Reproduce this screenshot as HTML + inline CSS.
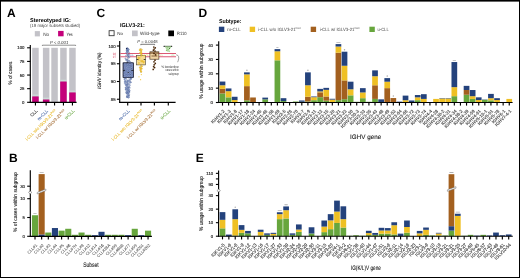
<!DOCTYPE html>
<html><head><meta charset="utf-8"><style>html,body{margin:0;padding:0;background:#fff}svg{display:block} #w{position:absolute;left:0;top:0;will-change:transform}</style></head>
<body><div id="w"><svg width="520" height="278" viewBox="0 0 520 278" font-family="'Liberation Sans', sans-serif" text-rendering="geometricPrecision">
<rect width="520" height="278" fill="#fff"/>
<text x="6.90" y="16.60" font-size="12" fill="#000" text-anchor="start" font-weight="bold" font-style="normal" >A</text>
<text x="30.10" y="21.60" font-size="5.6" fill="#000" text-anchor="start" font-weight="bold" font-style="normal" textLength="40.7" lengthAdjust="spacingAndGlyphs" >Stereotyped IG:</text>
<text x="30.10" y="26.90" font-size="4.5" fill="#444" text-anchor="start" font-weight="normal" font-style="normal" textLength="50" lengthAdjust="spacingAndGlyphs" >(19 major subsets studied)</text>
<rect x="34.80" y="31.10" width="5.10" height="5.30" fill="#c3c2c8" />
<text x="43.20" y="35.90" font-size="4.6" fill="#333" text-anchor="start" font-weight="normal" font-style="normal" textLength="6" lengthAdjust="spacingAndGlyphs" >No</text>
<rect x="58.10" y="30.90" width="5.50" height="5.40" fill="#c4007a" />
<text x="66.50" y="35.90" font-size="4.6" fill="#333" text-anchor="start" font-weight="normal" font-style="normal" textLength="6.2" lengthAdjust="spacingAndGlyphs" >Yes</text>
<line x1="30.30" y1="45.00" x2="30.30" y2="102.90" stroke="#000" stroke-width="1.15" />
<line x1="27.10" y1="102.30" x2="30.30" y2="102.30" stroke="#000" stroke-width="1.1" />
<text x="24.50" y="103.85" font-size="4.3" fill="#1a1a1a" text-anchor="end" font-weight="normal" font-style="normal" stroke="#1a1a1a" stroke-width="0.14">0</text>
<line x1="27.10" y1="88.67" x2="30.30" y2="88.67" stroke="#000" stroke-width="1.1" />
<text x="24.50" y="90.22" font-size="4.3" fill="#1a1a1a" text-anchor="end" font-weight="normal" font-style="normal" stroke="#1a1a1a" stroke-width="0.14">25</text>
<line x1="27.10" y1="75.05" x2="30.30" y2="75.05" stroke="#000" stroke-width="1.1" />
<text x="24.50" y="76.60" font-size="4.3" fill="#1a1a1a" text-anchor="end" font-weight="normal" font-style="normal" stroke="#1a1a1a" stroke-width="0.14">50</text>
<line x1="27.10" y1="61.42" x2="30.30" y2="61.42" stroke="#000" stroke-width="1.1" />
<text x="24.50" y="62.97" font-size="4.3" fill="#1a1a1a" text-anchor="end" font-weight="normal" font-style="normal" stroke="#1a1a1a" stroke-width="0.14">75</text>
<line x1="27.10" y1="47.80" x2="30.30" y2="47.80" stroke="#000" stroke-width="1.1" />
<text x="24.50" y="49.35" font-size="4.3" fill="#1a1a1a" text-anchor="end" font-weight="normal" font-style="normal" stroke="#1a1a1a" stroke-width="0.14">100</text>
<text x="12.30" y="73.10" font-size="5.3" fill="#1a1a1a" text-anchor="middle" font-weight="normal" font-style="normal" textLength="22.7" lengthAdjust="spacingAndGlyphs" transform="rotate(-90 12.30 73.10)" stroke="#1a1a1a" stroke-width="0.1">% of cases</text>
<rect x="32.20" y="47.80" width="6.50" height="54.50" fill="#c3c2c8" />
<rect x="32.20" y="96.47" width="6.50" height="5.83" fill="#c4007a" />
<line x1="32.50" y1="95.17" x2="38.40" y2="95.17" stroke="#d2ece2" stroke-width="0.8" />
<rect x="42.90" y="47.80" width="6.50" height="54.50" fill="#c3c2c8" />
<rect x="42.90" y="99.58" width="6.50" height="2.72" fill="#c4007a" />
<line x1="43.20" y1="98.28" x2="49.10" y2="98.28" stroke="#d2ece2" stroke-width="0.8" />
<rect x="51.30" y="47.80" width="6.50" height="54.50" fill="#c3c2c8" />
<rect x="60.20" y="47.80" width="6.50" height="54.50" fill="#c3c2c8" />
<rect x="60.20" y="81.59" width="6.50" height="20.71" fill="#c4007a" />
<line x1="60.50" y1="80.29" x2="66.40" y2="80.29" stroke="#d2ece2" stroke-width="0.8" />
<rect x="69.20" y="47.80" width="6.50" height="54.50" fill="#c3c2c8" />
<rect x="69.20" y="92.49" width="6.50" height="9.81" fill="#c4007a" />
<line x1="69.50" y1="91.19" x2="75.40" y2="91.19" stroke="#d2ece2" stroke-width="0.8" />
<line x1="29.80" y1="102.30" x2="76.60" y2="102.30" stroke="#000" stroke-width="1.15" />
<line x1="35.45" y1="102.30" x2="35.45" y2="105.50" stroke="#000" stroke-width="1.15" />
<line x1="46.15" y1="102.30" x2="46.15" y2="105.50" stroke="#000" stroke-width="1.15" />
<line x1="54.55" y1="102.30" x2="54.55" y2="105.50" stroke="#000" stroke-width="1.15" />
<line x1="63.45" y1="102.30" x2="63.45" y2="105.50" stroke="#000" stroke-width="1.15" />
<line x1="72.45" y1="102.30" x2="72.45" y2="105.50" stroke="#000" stroke-width="1.15" />
<path d="M42.4,46.0 V45.2 H75.6 V46.0" fill="none" stroke="#555" stroke-width="0.65"/>
<text x="59.10" y="43.90" font-size="4.3" fill="#333" text-anchor="middle" font-weight="normal" font-style="italic" textLength="18.4" lengthAdjust="spacingAndGlyphs" ><tspan font-style='italic'>P</tspan> &lt; 0.001</text>
<text x="37.65" y="111.30" font-size="4.4" fill="#222" text-anchor="end" font-weight="normal" font-style="normal" transform="rotate(-45 37.65 111.30)" stroke="#222" stroke-width="0.1">CLL</text>
<text x="48.35" y="111.30" font-size="4.4" fill="#4a6aa8" text-anchor="end" font-weight="normal" font-style="normal" transform="rotate(-45 48.35 111.30)" stroke="#4a6aa8" stroke-width="0.1">m-CLL</text>
<text x="56.75" y="111.30" font-size="4.2" fill="#e9b92a" text-anchor="end" font-weight="normal" font-style="normal" transform="rotate(-45 56.75 111.30)" stroke="#e9b92a" stroke-width="0.1">i-CLL w/o IGLV3-21<tspan font-size='2.4' dy='-1.8'>R110</tspan></text>
<text x="65.65" y="111.30" font-size="4.2" fill="#a8733c" text-anchor="end" font-weight="normal" font-style="normal" transform="rotate(-45 65.65 111.30)" stroke="#a8733c" stroke-width="0.1">i-CLL w/ IGLV3-21<tspan font-size='2.4' dy='-1.8'>R110</tspan></text>
<text x="74.65" y="111.30" font-size="4.4" fill="#6aa843" text-anchor="end" font-weight="normal" font-style="normal" transform="rotate(-45 74.65 111.30)" stroke="#6aa843" stroke-width="0.1">u-CLL</text>
<text x="96.50" y="16.50" font-size="12" fill="#000" text-anchor="start" font-weight="bold" font-style="normal" >C</text>
<text x="119.90" y="26.60" font-size="5.6" fill="#000" text-anchor="start" font-weight="bold" font-style="normal" textLength="25" lengthAdjust="spacingAndGlyphs" >IGLV3-21:</text>
<rect x="109.10" y="30.70" width="5.00" height="5.00" fill="#fff" stroke="#333" stroke-width="0.85"/>
<text x="117.30" y="35.00" font-size="4.4" fill="#333" text-anchor="start" font-weight="normal" font-style="normal" textLength="5.8" lengthAdjust="spacingAndGlyphs" >No</text>
<rect x="132.00" y="30.50" width="5.70" height="5.70" fill="#c3c2c8" />
<text x="140.10" y="35.00" font-size="4.6" fill="#333" text-anchor="start" font-weight="normal" font-style="normal" textLength="19.6" lengthAdjust="spacingAndGlyphs" >Wild-type</text>
<rect x="168.30" y="30.50" width="5.70" height="5.70" fill="#000" />
<text x="177.00" y="35.00" font-size="4.6" fill="#333" text-anchor="start" font-weight="normal" font-style="normal" textLength="9.5" lengthAdjust="spacingAndGlyphs" >R110</text>
<line x1="119.70" y1="41.00" x2="119.70" y2="102.90" stroke="#000" stroke-width="1.15" />
<line x1="116.90" y1="46.00" x2="119.70" y2="46.00" stroke="#000" stroke-width="1.1" />
<text x="115.60" y="47.55" font-size="4.3" fill="#1a1a1a" text-anchor="end" font-weight="normal" font-style="normal" stroke="#1a1a1a" stroke-width="0.14">100</text>
<line x1="116.90" y1="63.75" x2="119.70" y2="63.75" stroke="#000" stroke-width="1.1" />
<text x="115.60" y="65.30" font-size="4.3" fill="#1a1a1a" text-anchor="end" font-weight="normal" font-style="normal" stroke="#1a1a1a" stroke-width="0.14">95</text>
<line x1="116.90" y1="81.50" x2="119.70" y2="81.50" stroke="#000" stroke-width="1.1" />
<text x="115.60" y="83.05" font-size="4.3" fill="#1a1a1a" text-anchor="end" font-weight="normal" font-style="normal" stroke="#1a1a1a" stroke-width="0.14">90</text>
<line x1="116.90" y1="99.25" x2="119.70" y2="99.25" stroke="#000" stroke-width="1.1" />
<text x="115.60" y="100.80" font-size="4.3" fill="#1a1a1a" text-anchor="end" font-weight="normal" font-style="normal" stroke="#1a1a1a" stroke-width="0.14">85</text>
<text x="101.20" y="70.60" font-size="5.0" fill="#1a1a1a" text-anchor="middle" font-weight="normal" font-style="normal" textLength="36.6" lengthAdjust="spacingAndGlyphs" transform="rotate(-90 101.20 70.60)" stroke="#1a1a1a" stroke-width="0.1"><tspan font-style='italic'>IGHV</tspan> identity (%)</text>
<line x1="120.30" y1="53.45" x2="176.00" y2="53.45" stroke="#dc5a74" stroke-width="1.1" />
<text x="116.10" y="54.55" font-size="3.2" fill="#dc5a74" text-anchor="end" font-weight="normal" font-style="normal" textLength="3.3" lengthAdjust="spacingAndGlyphs" >98</text>
<line x1="120.30" y1="56.75" x2="176.00" y2="56.75" stroke="#dc5a74" stroke-width="1.1" />
<text x="116.10" y="57.85" font-size="3.2" fill="#dc5a74" text-anchor="end" font-weight="normal" font-style="normal" textLength="3.3" lengthAdjust="spacingAndGlyphs" >97</text>
<line x1="119.20" y1="102.30" x2="175.60" y2="102.30" stroke="#000" stroke-width="1.15" />
<line x1="127.70" y1="102.30" x2="127.70" y2="105.60" stroke="#000" stroke-width="1.15" />
<line x1="141.00" y1="102.30" x2="141.00" y2="105.60" stroke="#000" stroke-width="1.15" />
<line x1="154.40" y1="102.30" x2="154.40" y2="105.60" stroke="#000" stroke-width="1.15" />
<line x1="168.30" y1="102.30" x2="168.30" y2="105.60" stroke="#000" stroke-width="1.15" />
<path d="M140.8,45.2 V44.3 H154.6 V45.2" fill="none" stroke="#333" stroke-width="0.65"/>
<text x="147.50" y="42.90" font-size="4.3" fill="#333" text-anchor="middle" font-weight="normal" font-style="normal" textLength="20.4" lengthAdjust="spacingAndGlyphs" ><tspan font-style='italic'>P</tspan> = 0.0048</text>
<rect x="123.10" y="62.90" width="10.20" height="14.40" fill="#8090c2" stroke="#1e2236" stroke-width="0.6"/>
<line x1="127.80" y1="48.20" x2="127.80" y2="62.90" stroke="#555" stroke-width="0.4" />
<circle cx="128.04" cy="54.79" r="0.52" fill="#d3dbef" fill-opacity="1" stroke="#37518f" stroke-width="0.32"/>
<circle cx="127.57" cy="61.86" r="0.52" fill="#d3dbef" fill-opacity="1" stroke="#37518f" stroke-width="0.32"/>
<circle cx="128.18" cy="55.62" r="0.52" fill="#d3dbef" fill-opacity="1" stroke="#37518f" stroke-width="0.32"/>
<circle cx="127.83" cy="50.77" r="0.52" fill="#d3dbef" fill-opacity="1" stroke="#37518f" stroke-width="0.32"/>
<circle cx="129.25" cy="57.45" r="0.52" fill="#d3dbef" fill-opacity="1" stroke="#37518f" stroke-width="0.32"/>
<circle cx="127.39" cy="49.41" r="0.52" fill="#d3dbef" fill-opacity="1" stroke="#37518f" stroke-width="0.32"/>
<circle cx="128.45" cy="49.36" r="0.52" fill="#d3dbef" fill-opacity="1" stroke="#37518f" stroke-width="0.32"/>
<circle cx="125.37" cy="58.40" r="0.52" fill="#d3dbef" fill-opacity="1" stroke="#37518f" stroke-width="0.32"/>
<circle cx="130.99" cy="62.73" r="0.52" fill="#d3dbef" fill-opacity="1" stroke="#37518f" stroke-width="0.32"/>
<circle cx="128.39" cy="57.81" r="0.52" fill="#d3dbef" fill-opacity="1" stroke="#37518f" stroke-width="0.32"/>
<circle cx="126.61" cy="50.36" r="0.52" fill="#d3dbef" fill-opacity="1" stroke="#37518f" stroke-width="0.32"/>
<circle cx="125.86" cy="55.93" r="0.52" fill="#d3dbef" fill-opacity="1" stroke="#37518f" stroke-width="0.32"/>
<circle cx="127.12" cy="50.85" r="0.52" fill="#d3dbef" fill-opacity="1" stroke="#37518f" stroke-width="0.32"/>
<circle cx="127.74" cy="48.45" r="0.52" fill="#d3dbef" fill-opacity="1" stroke="#37518f" stroke-width="0.32"/>
<circle cx="129.15" cy="54.61" r="0.52" fill="#d3dbef" fill-opacity="1" stroke="#37518f" stroke-width="0.32"/>
<circle cx="128.41" cy="55.79" r="0.52" fill="#d3dbef" fill-opacity="1" stroke="#37518f" stroke-width="0.32"/>
<circle cx="128.49" cy="55.50" r="0.52" fill="#d3dbef" fill-opacity="1" stroke="#37518f" stroke-width="0.32"/>
<circle cx="126.91" cy="54.86" r="0.52" fill="#d3dbef" fill-opacity="1" stroke="#37518f" stroke-width="0.32"/>
<circle cx="131.24" cy="62.96" r="0.52" fill="#d3dbef" fill-opacity="1" stroke="#37518f" stroke-width="0.32"/>
<circle cx="129.07" cy="60.60" r="0.52" fill="#d3dbef" fill-opacity="1" stroke="#37518f" stroke-width="0.32"/>
<circle cx="126.92" cy="52.73" r="0.52" fill="#d3dbef" fill-opacity="1" stroke="#37518f" stroke-width="0.32"/>
<circle cx="126.46" cy="52.34" r="0.52" fill="#d3dbef" fill-opacity="1" stroke="#37518f" stroke-width="0.32"/>
<circle cx="127.23" cy="59.49" r="0.52" fill="#d3dbef" fill-opacity="1" stroke="#37518f" stroke-width="0.32"/>
<circle cx="127.10" cy="60.70" r="0.52" fill="#d3dbef" fill-opacity="1" stroke="#37518f" stroke-width="0.32"/>
<circle cx="130.14" cy="62.37" r="0.52" fill="#d3dbef" fill-opacity="1" stroke="#37518f" stroke-width="0.32"/>
<circle cx="127.33" cy="48.01" r="0.52" fill="#d3dbef" fill-opacity="1" stroke="#37518f" stroke-width="0.32"/>
<circle cx="127.61" cy="61.65" r="0.52" fill="#d3dbef" fill-opacity="1" stroke="#37518f" stroke-width="0.32"/>
<circle cx="127.10" cy="62.71" r="0.52" fill="#d3dbef" fill-opacity="1" stroke="#37518f" stroke-width="0.32"/>
<circle cx="128.06" cy="49.10" r="0.52" fill="#d3dbef" fill-opacity="1" stroke="#37518f" stroke-width="0.32"/>
<circle cx="126.47" cy="59.68" r="0.52" fill="#d3dbef" fill-opacity="1" stroke="#37518f" stroke-width="0.32"/>
<circle cx="127.45" cy="49.31" r="0.52" fill="#d3dbef" fill-opacity="1" stroke="#37518f" stroke-width="0.32"/>
<circle cx="129.55" cy="62.46" r="0.52" fill="#d3dbef" fill-opacity="1" stroke="#37518f" stroke-width="0.32"/>
<circle cx="127.23" cy="49.77" r="0.52" fill="#d3dbef" fill-opacity="1" stroke="#37518f" stroke-width="0.32"/>
<circle cx="126.86" cy="49.52" r="0.52" fill="#d3dbef" fill-opacity="1" stroke="#37518f" stroke-width="0.32"/>
<circle cx="125.91" cy="59.96" r="0.52" fill="#d3dbef" fill-opacity="1" stroke="#37518f" stroke-width="0.32"/>
<circle cx="127.56" cy="56.39" r="0.52" fill="#d3dbef" fill-opacity="1" stroke="#37518f" stroke-width="0.32"/>
<circle cx="128.41" cy="50.86" r="0.52" fill="#d3dbef" fill-opacity="1" stroke="#37518f" stroke-width="0.32"/>
<circle cx="128.13" cy="49.96" r="0.52" fill="#d3dbef" fill-opacity="1" stroke="#37518f" stroke-width="0.32"/>
<circle cx="127.62" cy="49.75" r="0.52" fill="#d3dbef" fill-opacity="1" stroke="#37518f" stroke-width="0.32"/>
<circle cx="127.17" cy="51.19" r="0.52" fill="#d3dbef" fill-opacity="1" stroke="#37518f" stroke-width="0.32"/>
<circle cx="129.86" cy="62.56" r="0.52" fill="#d3dbef" fill-opacity="1" stroke="#37518f" stroke-width="0.32"/>
<circle cx="129.03" cy="52.56" r="0.52" fill="#d3dbef" fill-opacity="1" stroke="#37518f" stroke-width="0.32"/>
<circle cx="127.51" cy="51.16" r="0.52" fill="#d3dbef" fill-opacity="1" stroke="#37518f" stroke-width="0.32"/>
<circle cx="128.68" cy="60.82" r="0.52" fill="#d3dbef" fill-opacity="1" stroke="#37518f" stroke-width="0.32"/>
<circle cx="128.85" cy="49.50" r="0.52" fill="#d3dbef" fill-opacity="1" stroke="#37518f" stroke-width="0.32"/>
<circle cx="127.13" cy="51.20" r="0.52" fill="#d3dbef" fill-opacity="1" stroke="#37518f" stroke-width="0.32"/>
<circle cx="126.82" cy="59.59" r="0.52" fill="#d3dbef" fill-opacity="1" stroke="#37518f" stroke-width="0.32"/>
<circle cx="126.45" cy="52.44" r="0.52" fill="#d3dbef" fill-opacity="1" stroke="#37518f" stroke-width="0.32"/>
<circle cx="127.97" cy="49.35" r="0.52" fill="#d3dbef" fill-opacity="1" stroke="#37518f" stroke-width="0.32"/>
<circle cx="128.09" cy="51.65" r="0.52" fill="#d3dbef" fill-opacity="1" stroke="#37518f" stroke-width="0.32"/>
<circle cx="127.63" cy="53.58" r="0.52" fill="#d3dbef" fill-opacity="1" stroke="#37518f" stroke-width="0.32"/>
<circle cx="127.69" cy="62.39" r="0.52" fill="#d3dbef" fill-opacity="1" stroke="#37518f" stroke-width="0.32"/>
<circle cx="129.51" cy="56.62" r="0.52" fill="#d3dbef" fill-opacity="1" stroke="#37518f" stroke-width="0.32"/>
<circle cx="126.91" cy="50.74" r="0.52" fill="#d3dbef" fill-opacity="1" stroke="#37518f" stroke-width="0.32"/>
<circle cx="129.85" cy="61.63" r="0.52" fill="#d3dbef" fill-opacity="1" stroke="#37518f" stroke-width="0.32"/>
<circle cx="124.95" cy="66.57" r="0.52" fill="#d3dbef" fill-opacity="1" stroke="#37518f" stroke-width="0.32"/>
<circle cx="131.85" cy="73.57" r="0.52" fill="#d3dbef" fill-opacity="1" stroke="#37518f" stroke-width="0.32"/>
<circle cx="131.94" cy="65.81" r="0.52" fill="#d3dbef" fill-opacity="1" stroke="#37518f" stroke-width="0.32"/>
<circle cx="128.75" cy="75.62" r="0.52" fill="#d3dbef" fill-opacity="1" stroke="#37518f" stroke-width="0.32"/>
<circle cx="124.16" cy="69.03" r="0.52" fill="#d3dbef" fill-opacity="1" stroke="#37518f" stroke-width="0.32"/>
<circle cx="132.06" cy="63.55" r="0.52" fill="#d3dbef" fill-opacity="1" stroke="#37518f" stroke-width="0.32"/>
<circle cx="129.68" cy="66.41" r="0.52" fill="#d3dbef" fill-opacity="1" stroke="#37518f" stroke-width="0.32"/>
<circle cx="130.78" cy="66.67" r="0.52" fill="#d3dbef" fill-opacity="1" stroke="#37518f" stroke-width="0.32"/>
<circle cx="125.90" cy="71.53" r="0.52" fill="#d3dbef" fill-opacity="1" stroke="#37518f" stroke-width="0.32"/>
<circle cx="129.83" cy="65.51" r="0.52" fill="#d3dbef" fill-opacity="1" stroke="#37518f" stroke-width="0.32"/>
<circle cx="125.30" cy="63.98" r="0.52" fill="#d3dbef" fill-opacity="1" stroke="#37518f" stroke-width="0.32"/>
<circle cx="131.04" cy="71.00" r="0.52" fill="#d3dbef" fill-opacity="1" stroke="#37518f" stroke-width="0.32"/>
<circle cx="125.78" cy="71.78" r="0.52" fill="#d3dbef" fill-opacity="1" stroke="#37518f" stroke-width="0.32"/>
<circle cx="125.08" cy="76.12" r="0.52" fill="#d3dbef" fill-opacity="1" stroke="#37518f" stroke-width="0.32"/>
<circle cx="125.68" cy="63.24" r="0.52" fill="#d3dbef" fill-opacity="1" stroke="#37518f" stroke-width="0.32"/>
<circle cx="123.76" cy="69.37" r="0.52" fill="#d3dbef" fill-opacity="1" stroke="#37518f" stroke-width="0.32"/>
<circle cx="126.59" cy="65.52" r="0.52" fill="#d3dbef" fill-opacity="1" stroke="#37518f" stroke-width="0.32"/>
<circle cx="124.41" cy="71.18" r="0.52" fill="#d3dbef" fill-opacity="1" stroke="#37518f" stroke-width="0.32"/>
<circle cx="131.40" cy="68.18" r="0.52" fill="#d3dbef" fill-opacity="1" stroke="#37518f" stroke-width="0.32"/>
<circle cx="129.24" cy="77.02" r="0.52" fill="#d3dbef" fill-opacity="1" stroke="#37518f" stroke-width="0.32"/>
<circle cx="128.58" cy="72.88" r="0.52" fill="#d3dbef" fill-opacity="1" stroke="#37518f" stroke-width="0.32"/>
<circle cx="131.57" cy="63.26" r="0.52" fill="#d3dbef" fill-opacity="1" stroke="#37518f" stroke-width="0.32"/>
<circle cx="132.06" cy="73.02" r="0.52" fill="#d3dbef" fill-opacity="1" stroke="#37518f" stroke-width="0.32"/>
<circle cx="129.05" cy="63.30" r="0.52" fill="#d3dbef" fill-opacity="1" stroke="#37518f" stroke-width="0.32"/>
<circle cx="129.92" cy="69.90" r="0.52" fill="#d3dbef" fill-opacity="1" stroke="#37518f" stroke-width="0.32"/>
<circle cx="132.39" cy="67.56" r="0.52" fill="#d3dbef" fill-opacity="1" stroke="#37518f" stroke-width="0.32"/>
<circle cx="128.22" cy="64.08" r="0.52" fill="#d3dbef" fill-opacity="1" stroke="#37518f" stroke-width="0.32"/>
<circle cx="131.48" cy="73.54" r="0.52" fill="#d3dbef" fill-opacity="1" stroke="#37518f" stroke-width="0.32"/>
<circle cx="129.67" cy="73.54" r="0.52" fill="#d3dbef" fill-opacity="1" stroke="#37518f" stroke-width="0.32"/>
<circle cx="131.62" cy="74.34" r="0.52" fill="#d3dbef" fill-opacity="1" stroke="#37518f" stroke-width="0.32"/>
<circle cx="129.50" cy="68.03" r="0.52" fill="#d3dbef" fill-opacity="1" stroke="#37518f" stroke-width="0.32"/>
<circle cx="131.21" cy="75.88" r="0.52" fill="#d3dbef" fill-opacity="1" stroke="#37518f" stroke-width="0.32"/>
<circle cx="130.47" cy="68.97" r="0.52" fill="#d3dbef" fill-opacity="1" stroke="#37518f" stroke-width="0.32"/>
<circle cx="128.47" cy="75.35" r="0.52" fill="#d3dbef" fill-opacity="1" stroke="#37518f" stroke-width="0.32"/>
<circle cx="126.72" cy="71.94" r="0.52" fill="#d3dbef" fill-opacity="1" stroke="#37518f" stroke-width="0.32"/>
<circle cx="128.80" cy="71.33" r="0.52" fill="#d3dbef" fill-opacity="1" stroke="#37518f" stroke-width="0.32"/>
<circle cx="129.08" cy="64.15" r="0.52" fill="#d3dbef" fill-opacity="1" stroke="#37518f" stroke-width="0.32"/>
<circle cx="131.29" cy="77.20" r="0.52" fill="#d3dbef" fill-opacity="1" stroke="#37518f" stroke-width="0.32"/>
<circle cx="126.77" cy="73.41" r="0.52" fill="#d3dbef" fill-opacity="1" stroke="#37518f" stroke-width="0.32"/>
<circle cx="128.54" cy="73.51" r="0.52" fill="#d3dbef" fill-opacity="1" stroke="#37518f" stroke-width="0.32"/>
<circle cx="130.91" cy="69.30" r="0.52" fill="#d3dbef" fill-opacity="1" stroke="#37518f" stroke-width="0.32"/>
<circle cx="130.10" cy="64.20" r="0.52" fill="#d3dbef" fill-opacity="1" stroke="#37518f" stroke-width="0.32"/>
<circle cx="128.73" cy="63.43" r="0.52" fill="#d3dbef" fill-opacity="1" stroke="#37518f" stroke-width="0.32"/>
<circle cx="125.32" cy="69.88" r="0.52" fill="#d3dbef" fill-opacity="1" stroke="#37518f" stroke-width="0.32"/>
<circle cx="127.77" cy="72.99" r="0.52" fill="#d3dbef" fill-opacity="1" stroke="#37518f" stroke-width="0.32"/>
<circle cx="131.67" cy="71.79" r="0.52" fill="#d3dbef" fill-opacity="1" stroke="#37518f" stroke-width="0.32"/>
<circle cx="129.44" cy="67.30" r="0.52" fill="#d3dbef" fill-opacity="1" stroke="#37518f" stroke-width="0.32"/>
<circle cx="124.76" cy="65.90" r="0.52" fill="#d3dbef" fill-opacity="1" stroke="#37518f" stroke-width="0.32"/>
<circle cx="129.27" cy="75.95" r="0.52" fill="#d3dbef" fill-opacity="1" stroke="#37518f" stroke-width="0.32"/>
<circle cx="131.40" cy="69.32" r="0.52" fill="#d3dbef" fill-opacity="1" stroke="#37518f" stroke-width="0.32"/>
<circle cx="129.33" cy="67.68" r="0.52" fill="#d3dbef" fill-opacity="1" stroke="#37518f" stroke-width="0.32"/>
<circle cx="127.16" cy="65.84" r="0.52" fill="#d3dbef" fill-opacity="1" stroke="#37518f" stroke-width="0.32"/>
<circle cx="131.61" cy="74.53" r="0.52" fill="#d3dbef" fill-opacity="1" stroke="#37518f" stroke-width="0.32"/>
<circle cx="126.74" cy="75.59" r="0.52" fill="#d3dbef" fill-opacity="1" stroke="#37518f" stroke-width="0.32"/>
<circle cx="126.11" cy="71.34" r="0.52" fill="#d3dbef" fill-opacity="1" stroke="#37518f" stroke-width="0.32"/>
<circle cx="127.77" cy="64.95" r="0.52" fill="#d3dbef" fill-opacity="1" stroke="#37518f" stroke-width="0.32"/>
<circle cx="131.01" cy="74.97" r="0.52" fill="#d3dbef" fill-opacity="1" stroke="#37518f" stroke-width="0.32"/>
<circle cx="131.94" cy="73.17" r="0.52" fill="#d3dbef" fill-opacity="1" stroke="#37518f" stroke-width="0.32"/>
<circle cx="124.76" cy="66.96" r="0.52" fill="#d3dbef" fill-opacity="1" stroke="#37518f" stroke-width="0.32"/>
<circle cx="125.73" cy="69.44" r="0.52" fill="#d3dbef" fill-opacity="1" stroke="#37518f" stroke-width="0.32"/>
<circle cx="127.01" cy="66.06" r="0.52" fill="#d3dbef" fill-opacity="1" stroke="#37518f" stroke-width="0.32"/>
<circle cx="127.74" cy="71.95" r="0.52" fill="#d3dbef" fill-opacity="1" stroke="#37518f" stroke-width="0.32"/>
<circle cx="130.92" cy="67.51" r="0.52" fill="#d3dbef" fill-opacity="1" stroke="#37518f" stroke-width="0.32"/>
<circle cx="127.36" cy="77.04" r="0.52" fill="#d3dbef" fill-opacity="1" stroke="#37518f" stroke-width="0.32"/>
<circle cx="128.45" cy="73.13" r="0.52" fill="#d3dbef" fill-opacity="1" stroke="#37518f" stroke-width="0.32"/>
<circle cx="130.48" cy="67.42" r="0.52" fill="#d3dbef" fill-opacity="1" stroke="#37518f" stroke-width="0.32"/>
<circle cx="124.45" cy="63.27" r="0.52" fill="#d3dbef" fill-opacity="1" stroke="#37518f" stroke-width="0.32"/>
<circle cx="125.38" cy="74.86" r="0.52" fill="#d3dbef" fill-opacity="1" stroke="#37518f" stroke-width="0.32"/>
<circle cx="123.63" cy="65.01" r="0.52" fill="#d3dbef" fill-opacity="1" stroke="#37518f" stroke-width="0.32"/>
<circle cx="127.31" cy="72.00" r="0.52" fill="#d3dbef" fill-opacity="1" stroke="#37518f" stroke-width="0.32"/>
<circle cx="129.23" cy="72.01" r="0.52" fill="#d3dbef" fill-opacity="1" stroke="#37518f" stroke-width="0.32"/>
<circle cx="132.02" cy="74.55" r="0.52" fill="#d3dbef" fill-opacity="1" stroke="#37518f" stroke-width="0.32"/>
<circle cx="125.03" cy="72.79" r="0.52" fill="#d3dbef" fill-opacity="1" stroke="#37518f" stroke-width="0.32"/>
<circle cx="124.84" cy="69.79" r="0.52" fill="#d3dbef" fill-opacity="1" stroke="#37518f" stroke-width="0.32"/>
<circle cx="127.54" cy="63.15" r="0.52" fill="#d3dbef" fill-opacity="1" stroke="#37518f" stroke-width="0.32"/>
<circle cx="124.85" cy="73.21" r="0.52" fill="#d3dbef" fill-opacity="1" stroke="#37518f" stroke-width="0.32"/>
<circle cx="126.38" cy="66.89" r="0.52" fill="#d3dbef" fill-opacity="1" stroke="#37518f" stroke-width="0.32"/>
<circle cx="127.99" cy="72.97" r="0.52" fill="#d3dbef" fill-opacity="1" stroke="#37518f" stroke-width="0.32"/>
<circle cx="130.16" cy="71.79" r="0.52" fill="#d3dbef" fill-opacity="1" stroke="#37518f" stroke-width="0.32"/>
<circle cx="130.49" cy="68.63" r="0.52" fill="#d3dbef" fill-opacity="1" stroke="#37518f" stroke-width="0.32"/>
<circle cx="124.00" cy="75.96" r="0.52" fill="#d3dbef" fill-opacity="1" stroke="#37518f" stroke-width="0.32"/>
<circle cx="129.85" cy="76.34" r="0.52" fill="#d3dbef" fill-opacity="1" stroke="#37518f" stroke-width="0.32"/>
<circle cx="127.37" cy="64.86" r="0.52" fill="#d3dbef" fill-opacity="1" stroke="#37518f" stroke-width="0.32"/>
<circle cx="131.57" cy="71.95" r="0.52" fill="#d3dbef" fill-opacity="1" stroke="#37518f" stroke-width="0.32"/>
<circle cx="128.43" cy="68.39" r="0.52" fill="#d3dbef" fill-opacity="1" stroke="#37518f" stroke-width="0.32"/>
<circle cx="130.53" cy="75.57" r="0.52" fill="#d3dbef" fill-opacity="1" stroke="#37518f" stroke-width="0.32"/>
<circle cx="127.47" cy="76.50" r="0.52" fill="#d3dbef" fill-opacity="1" stroke="#37518f" stroke-width="0.32"/>
<circle cx="125.09" cy="72.31" r="0.52" fill="#d3dbef" fill-opacity="1" stroke="#37518f" stroke-width="0.32"/>
<circle cx="130.73" cy="73.32" r="0.52" fill="#d3dbef" fill-opacity="1" stroke="#37518f" stroke-width="0.32"/>
<circle cx="129.80" cy="72.18" r="0.52" fill="#d3dbef" fill-opacity="1" stroke="#37518f" stroke-width="0.32"/>
<circle cx="131.48" cy="66.05" r="0.52" fill="#d3dbef" fill-opacity="1" stroke="#37518f" stroke-width="0.32"/>
<circle cx="132.19" cy="77.02" r="0.52" fill="#d3dbef" fill-opacity="1" stroke="#37518f" stroke-width="0.32"/>
<circle cx="130.48" cy="70.68" r="0.52" fill="#d3dbef" fill-opacity="1" stroke="#37518f" stroke-width="0.32"/>
<circle cx="131.57" cy="67.58" r="0.52" fill="#d3dbef" fill-opacity="1" stroke="#37518f" stroke-width="0.32"/>
<circle cx="126.41" cy="75.24" r="0.52" fill="#d3dbef" fill-opacity="1" stroke="#37518f" stroke-width="0.32"/>
<circle cx="127.26" cy="64.18" r="0.52" fill="#d3dbef" fill-opacity="1" stroke="#37518f" stroke-width="0.32"/>
<circle cx="130.27" cy="70.87" r="0.52" fill="#d3dbef" fill-opacity="1" stroke="#37518f" stroke-width="0.32"/>
<circle cx="123.79" cy="74.57" r="0.52" fill="#d3dbef" fill-opacity="1" stroke="#37518f" stroke-width="0.32"/>
<circle cx="124.79" cy="74.44" r="0.52" fill="#d3dbef" fill-opacity="1" stroke="#37518f" stroke-width="0.32"/>
<circle cx="130.45" cy="67.79" r="0.52" fill="#d3dbef" fill-opacity="1" stroke="#37518f" stroke-width="0.32"/>
<circle cx="124.57" cy="65.01" r="0.52" fill="#d3dbef" fill-opacity="1" stroke="#37518f" stroke-width="0.32"/>
<circle cx="129.86" cy="70.39" r="0.52" fill="#d3dbef" fill-opacity="1" stroke="#37518f" stroke-width="0.32"/>
<circle cx="129.54" cy="75.01" r="0.52" fill="#d3dbef" fill-opacity="1" stroke="#37518f" stroke-width="0.32"/>
<circle cx="127.73" cy="76.52" r="0.52" fill="#d3dbef" fill-opacity="1" stroke="#37518f" stroke-width="0.32"/>
<circle cx="123.99" cy="76.57" r="0.52" fill="#d3dbef" fill-opacity="1" stroke="#37518f" stroke-width="0.32"/>
<circle cx="128.05" cy="66.17" r="0.52" fill="#d3dbef" fill-opacity="1" stroke="#37518f" stroke-width="0.32"/>
<circle cx="129.91" cy="67.15" r="0.52" fill="#d3dbef" fill-opacity="1" stroke="#37518f" stroke-width="0.32"/>
<circle cx="128.01" cy="72.14" r="0.52" fill="#d3dbef" fill-opacity="1" stroke="#37518f" stroke-width="0.32"/>
<circle cx="128.35" cy="75.06" r="0.52" fill="#d3dbef" fill-opacity="1" stroke="#37518f" stroke-width="0.32"/>
<circle cx="126.71" cy="67.46" r="0.52" fill="#d3dbef" fill-opacity="1" stroke="#37518f" stroke-width="0.32"/>
<circle cx="131.48" cy="75.09" r="0.52" fill="#d3dbef" fill-opacity="1" stroke="#37518f" stroke-width="0.32"/>
<circle cx="131.03" cy="65.98" r="0.52" fill="#d3dbef" fill-opacity="1" stroke="#37518f" stroke-width="0.32"/>
<circle cx="128.02" cy="76.85" r="0.52" fill="#d3dbef" fill-opacity="1" stroke="#37518f" stroke-width="0.32"/>
<circle cx="125.05" cy="71.19" r="0.52" fill="#d3dbef" fill-opacity="1" stroke="#37518f" stroke-width="0.32"/>
<circle cx="127.83" cy="70.66" r="0.52" fill="#d3dbef" fill-opacity="1" stroke="#37518f" stroke-width="0.32"/>
<circle cx="127.95" cy="76.86" r="0.52" fill="#d3dbef" fill-opacity="1" stroke="#37518f" stroke-width="0.32"/>
<circle cx="130.57" cy="68.73" r="0.52" fill="#d3dbef" fill-opacity="1" stroke="#37518f" stroke-width="0.32"/>
<circle cx="127.72" cy="71.05" r="0.52" fill="#d3dbef" fill-opacity="1" stroke="#37518f" stroke-width="0.32"/>
<circle cx="123.81" cy="72.88" r="0.52" fill="#d3dbef" fill-opacity="1" stroke="#37518f" stroke-width="0.32"/>
<circle cx="127.01" cy="70.70" r="0.52" fill="#d3dbef" fill-opacity="1" stroke="#37518f" stroke-width="0.32"/>
<circle cx="131.70" cy="76.68" r="0.52" fill="#d3dbef" fill-opacity="1" stroke="#37518f" stroke-width="0.32"/>
<circle cx="127.55" cy="66.85" r="0.52" fill="#d3dbef" fill-opacity="1" stroke="#37518f" stroke-width="0.32"/>
<circle cx="127.19" cy="64.82" r="0.52" fill="#d3dbef" fill-opacity="1" stroke="#37518f" stroke-width="0.32"/>
<circle cx="131.49" cy="74.66" r="0.52" fill="#d3dbef" fill-opacity="1" stroke="#37518f" stroke-width="0.32"/>
<circle cx="126.12" cy="69.81" r="0.52" fill="#d3dbef" fill-opacity="1" stroke="#37518f" stroke-width="0.32"/>
<circle cx="128.88" cy="65.74" r="0.52" fill="#d3dbef" fill-opacity="1" stroke="#37518f" stroke-width="0.32"/>
<circle cx="124.39" cy="76.23" r="0.52" fill="#d3dbef" fill-opacity="1" stroke="#37518f" stroke-width="0.32"/>
<circle cx="125.29" cy="65.78" r="0.52" fill="#d3dbef" fill-opacity="1" stroke="#37518f" stroke-width="0.32"/>
<circle cx="126.16" cy="72.82" r="0.52" fill="#d3dbef" fill-opacity="1" stroke="#37518f" stroke-width="0.32"/>
<circle cx="128.90" cy="68.08" r="0.52" fill="#d3dbef" fill-opacity="1" stroke="#37518f" stroke-width="0.32"/>
<circle cx="129.92" cy="64.50" r="0.52" fill="#d3dbef" fill-opacity="1" stroke="#37518f" stroke-width="0.32"/>
<circle cx="127.90" cy="64.76" r="0.52" fill="#d3dbef" fill-opacity="1" stroke="#37518f" stroke-width="0.32"/>
<circle cx="125.02" cy="66.58" r="0.52" fill="#d3dbef" fill-opacity="1" stroke="#37518f" stroke-width="0.32"/>
<circle cx="127.22" cy="70.58" r="0.52" fill="#d3dbef" fill-opacity="1" stroke="#37518f" stroke-width="0.32"/>
<circle cx="127.00" cy="68.37" r="0.52" fill="#d3dbef" fill-opacity="1" stroke="#37518f" stroke-width="0.32"/>
<circle cx="124.67" cy="70.57" r="0.52" fill="#d3dbef" fill-opacity="1" stroke="#37518f" stroke-width="0.32"/>
<circle cx="129.01" cy="65.92" r="0.52" fill="#d3dbef" fill-opacity="1" stroke="#37518f" stroke-width="0.32"/>
<circle cx="128.07" cy="72.13" r="0.52" fill="#d3dbef" fill-opacity="1" stroke="#37518f" stroke-width="0.32"/>
<circle cx="128.83" cy="75.17" r="0.52" fill="#d3dbef" fill-opacity="1" stroke="#37518f" stroke-width="0.32"/>
<circle cx="125.34" cy="75.25" r="0.52" fill="#d3dbef" fill-opacity="1" stroke="#37518f" stroke-width="0.32"/>
<circle cx="130.66" cy="73.59" r="0.52" fill="#d3dbef" fill-opacity="1" stroke="#37518f" stroke-width="0.32"/>
<circle cx="126.11" cy="75.91" r="0.52" fill="#d3dbef" fill-opacity="1" stroke="#37518f" stroke-width="0.32"/>
<circle cx="131.69" cy="67.50" r="0.52" fill="#d3dbef" fill-opacity="1" stroke="#37518f" stroke-width="0.32"/>
<circle cx="132.38" cy="66.12" r="0.52" fill="#d3dbef" fill-opacity="1" stroke="#37518f" stroke-width="0.32"/>
<circle cx="124.43" cy="75.69" r="0.52" fill="#d3dbef" fill-opacity="1" stroke="#37518f" stroke-width="0.32"/>
<circle cx="129.88" cy="66.42" r="0.52" fill="#d3dbef" fill-opacity="1" stroke="#37518f" stroke-width="0.32"/>
<circle cx="124.09" cy="66.71" r="0.52" fill="#d3dbef" fill-opacity="1" stroke="#37518f" stroke-width="0.32"/>
<circle cx="127.08" cy="74.90" r="0.52" fill="#d3dbef" fill-opacity="1" stroke="#37518f" stroke-width="0.32"/>
<circle cx="124.36" cy="74.30" r="0.52" fill="#d3dbef" fill-opacity="1" stroke="#37518f" stroke-width="0.32"/>
<circle cx="129.50" cy="68.76" r="0.52" fill="#d3dbef" fill-opacity="1" stroke="#37518f" stroke-width="0.32"/>
<circle cx="125.44" cy="77.66" r="0.52" fill="#d3dbef" fill-opacity="1" stroke="#37518f" stroke-width="0.32"/>
<circle cx="129.35" cy="91.08" r="0.52" fill="#d3dbef" fill-opacity="1" stroke="#37518f" stroke-width="0.32"/>
<circle cx="126.97" cy="96.86" r="0.52" fill="#d3dbef" fill-opacity="1" stroke="#37518f" stroke-width="0.32"/>
<circle cx="129.03" cy="87.51" r="0.52" fill="#d3dbef" fill-opacity="1" stroke="#37518f" stroke-width="0.32"/>
<circle cx="128.69" cy="87.46" r="0.52" fill="#d3dbef" fill-opacity="1" stroke="#37518f" stroke-width="0.32"/>
<circle cx="124.89" cy="81.12" r="0.52" fill="#d3dbef" fill-opacity="1" stroke="#37518f" stroke-width="0.32"/>
<circle cx="124.42" cy="79.44" r="0.52" fill="#d3dbef" fill-opacity="1" stroke="#37518f" stroke-width="0.32"/>
<circle cx="127.87" cy="88.44" r="0.52" fill="#d3dbef" fill-opacity="1" stroke="#37518f" stroke-width="0.32"/>
<circle cx="126.24" cy="88.79" r="0.52" fill="#d3dbef" fill-opacity="1" stroke="#37518f" stroke-width="0.32"/>
<circle cx="125.78" cy="81.03" r="0.52" fill="#d3dbef" fill-opacity="1" stroke="#37518f" stroke-width="0.32"/>
<circle cx="129.21" cy="94.27" r="0.52" fill="#d3dbef" fill-opacity="1" stroke="#37518f" stroke-width="0.32"/>
<circle cx="126.83" cy="96.02" r="0.52" fill="#d3dbef" fill-opacity="1" stroke="#37518f" stroke-width="0.32"/>
<circle cx="131.23" cy="78.55" r="0.52" fill="#d3dbef" fill-opacity="1" stroke="#37518f" stroke-width="0.32"/>
<circle cx="129.13" cy="86.63" r="0.52" fill="#d3dbef" fill-opacity="1" stroke="#37518f" stroke-width="0.32"/>
<circle cx="127.61" cy="83.90" r="0.52" fill="#d3dbef" fill-opacity="1" stroke="#37518f" stroke-width="0.32"/>
<circle cx="127.47" cy="87.71" r="0.52" fill="#d3dbef" fill-opacity="1" stroke="#37518f" stroke-width="0.32"/>
<circle cx="125.74" cy="89.44" r="0.52" fill="#d3dbef" fill-opacity="1" stroke="#37518f" stroke-width="0.32"/>
<circle cx="129.06" cy="91.46" r="0.52" fill="#d3dbef" fill-opacity="1" stroke="#37518f" stroke-width="0.32"/>
<circle cx="127.49" cy="80.96" r="0.52" fill="#d3dbef" fill-opacity="1" stroke="#37518f" stroke-width="0.32"/>
<circle cx="127.47" cy="92.23" r="0.52" fill="#d3dbef" fill-opacity="1" stroke="#37518f" stroke-width="0.32"/>
<circle cx="125.54" cy="81.24" r="0.52" fill="#d3dbef" fill-opacity="1" stroke="#37518f" stroke-width="0.32"/>
<circle cx="125.50" cy="87.65" r="0.52" fill="#d3dbef" fill-opacity="1" stroke="#37518f" stroke-width="0.32"/>
<circle cx="128.58" cy="95.34" r="0.52" fill="#d3dbef" fill-opacity="1" stroke="#37518f" stroke-width="0.32"/>
<circle cx="129.12" cy="91.53" r="0.52" fill="#d3dbef" fill-opacity="1" stroke="#37518f" stroke-width="0.32"/>
<circle cx="127.41" cy="90.01" r="0.52" fill="#d3dbef" fill-opacity="1" stroke="#37518f" stroke-width="0.32"/>
<circle cx="127.82" cy="89.41" r="0.52" fill="#d3dbef" fill-opacity="1" stroke="#37518f" stroke-width="0.32"/>
<circle cx="128.43" cy="97.15" r="0.52" fill="#d3dbef" fill-opacity="1" stroke="#37518f" stroke-width="0.32"/>
<circle cx="130.40" cy="82.52" r="0.52" fill="#d3dbef" fill-opacity="1" stroke="#37518f" stroke-width="0.32"/>
<circle cx="128.75" cy="92.34" r="0.52" fill="#d3dbef" fill-opacity="1" stroke="#37518f" stroke-width="0.32"/>
<circle cx="127.51" cy="93.76" r="0.52" fill="#d3dbef" fill-opacity="1" stroke="#37518f" stroke-width="0.32"/>
<circle cx="128.77" cy="95.41" r="0.52" fill="#d3dbef" fill-opacity="1" stroke="#37518f" stroke-width="0.32"/>
<circle cx="128.79" cy="91.33" r="0.52" fill="#d3dbef" fill-opacity="1" stroke="#37518f" stroke-width="0.32"/>
<circle cx="127.49" cy="92.76" r="0.52" fill="#d3dbef" fill-opacity="1" stroke="#37518f" stroke-width="0.32"/>
<circle cx="126.28" cy="91.90" r="0.52" fill="#d3dbef" fill-opacity="1" stroke="#37518f" stroke-width="0.32"/>
<circle cx="127.62" cy="84.20" r="0.52" fill="#d3dbef" fill-opacity="1" stroke="#37518f" stroke-width="0.32"/>
<circle cx="126.65" cy="77.51" r="0.52" fill="#d3dbef" fill-opacity="1" stroke="#37518f" stroke-width="0.32"/>
<circle cx="128.30" cy="90.20" r="0.52" fill="#d3dbef" fill-opacity="1" stroke="#37518f" stroke-width="0.32"/>
<circle cx="130.69" cy="81.99" r="0.52" fill="#d3dbef" fill-opacity="1" stroke="#37518f" stroke-width="0.32"/>
<circle cx="127.17" cy="90.76" r="0.52" fill="#d3dbef" fill-opacity="1" stroke="#37518f" stroke-width="0.32"/>
<circle cx="128.07" cy="90.63" r="0.52" fill="#d3dbef" fill-opacity="1" stroke="#37518f" stroke-width="0.32"/>
<circle cx="127.29" cy="88.07" r="0.52" fill="#d3dbef" fill-opacity="1" stroke="#37518f" stroke-width="0.32"/>
<circle cx="128.08" cy="97.50" r="0.52" fill="#d3dbef" fill-opacity="1" stroke="#37518f" stroke-width="0.32"/>
<circle cx="128.76" cy="91.47" r="0.52" fill="#d3dbef" fill-opacity="1" stroke="#37518f" stroke-width="0.32"/>
<circle cx="126.80" cy="97.10" r="0.52" fill="#d3dbef" fill-opacity="1" stroke="#37518f" stroke-width="0.32"/>
<circle cx="128.79" cy="89.73" r="0.52" fill="#d3dbef" fill-opacity="1" stroke="#37518f" stroke-width="0.32"/>
<circle cx="127.18" cy="82.48" r="0.52" fill="#d3dbef" fill-opacity="1" stroke="#37518f" stroke-width="0.32"/>
<circle cx="125.46" cy="78.32" r="0.52" fill="#d3dbef" fill-opacity="1" stroke="#37518f" stroke-width="0.32"/>
<circle cx="125.56" cy="84.89" r="0.52" fill="#d3dbef" fill-opacity="1" stroke="#37518f" stroke-width="0.32"/>
<circle cx="130.39" cy="82.37" r="0.52" fill="#d3dbef" fill-opacity="1" stroke="#37518f" stroke-width="0.32"/>
<circle cx="127.84" cy="88.41" r="0.52" fill="#d3dbef" fill-opacity="1" stroke="#37518f" stroke-width="0.32"/>
<circle cx="127.95" cy="96.84" r="0.52" fill="#d3dbef" fill-opacity="1" stroke="#37518f" stroke-width="0.32"/>
<circle cx="128.08" cy="97.40" r="0.52" fill="#d3dbef" fill-opacity="1" stroke="#37518f" stroke-width="0.32"/>
<circle cx="126.50" cy="93.65" r="0.52" fill="#d3dbef" fill-opacity="1" stroke="#37518f" stroke-width="0.32"/>
<circle cx="128.90" cy="89.37" r="0.52" fill="#d3dbef" fill-opacity="1" stroke="#37518f" stroke-width="0.32"/>
<circle cx="131.12" cy="78.21" r="0.52" fill="#d3dbef" fill-opacity="1" stroke="#37518f" stroke-width="0.32"/>
<circle cx="127.60" cy="80.53" r="0.52" fill="#d3dbef" fill-opacity="1" stroke="#37518f" stroke-width="0.32"/>
<circle cx="127.77" cy="80.72" r="0.52" fill="#d3dbef" fill-opacity="1" stroke="#37518f" stroke-width="0.32"/>
<circle cx="125.96" cy="89.65" r="0.52" fill="#d3dbef" fill-opacity="1" stroke="#37518f" stroke-width="0.32"/>
<circle cx="127.62" cy="96.39" r="0.52" fill="#d3dbef" fill-opacity="1" stroke="#37518f" stroke-width="0.32"/>
<circle cx="128.26" cy="87.94" r="0.52" fill="#d3dbef" fill-opacity="1" stroke="#37518f" stroke-width="0.32"/>
<circle cx="126.59" cy="84.68" r="0.52" fill="#d3dbef" fill-opacity="1" stroke="#37518f" stroke-width="0.32"/>
<circle cx="128.04" cy="90.53" r="0.52" fill="#d3dbef" fill-opacity="1" stroke="#37518f" stroke-width="0.32"/>
<circle cx="129.14" cy="83.03" r="0.52" fill="#d3dbef" fill-opacity="1" stroke="#37518f" stroke-width="0.32"/>
<circle cx="124.84" cy="83.28" r="0.52" fill="#d3dbef" fill-opacity="1" stroke="#37518f" stroke-width="0.32"/>
<circle cx="124.87" cy="82.25" r="0.52" fill="#d3dbef" fill-opacity="1" stroke="#37518f" stroke-width="0.32"/>
<circle cx="129.58" cy="80.46" r="0.52" fill="#d3dbef" fill-opacity="1" stroke="#37518f" stroke-width="0.32"/>
<circle cx="129.98" cy="85.18" r="0.52" fill="#d3dbef" fill-opacity="1" stroke="#37518f" stroke-width="0.32"/>
<circle cx="126.27" cy="92.42" r="0.52" fill="#d3dbef" fill-opacity="1" stroke="#37518f" stroke-width="0.32"/>
<circle cx="128.71" cy="97.27" r="0.52" fill="#d3dbef" fill-opacity="1" stroke="#37518f" stroke-width="0.32"/>
<circle cx="130.85" cy="78.78" r="0.52" fill="#d3dbef" fill-opacity="1" stroke="#37518f" stroke-width="0.32"/>
<circle cx="127.68" cy="85.98" r="0.52" fill="#d3dbef" fill-opacity="1" stroke="#37518f" stroke-width="0.32"/>
<circle cx="127.25" cy="96.96" r="0.52" fill="#d3dbef" fill-opacity="1" stroke="#37518f" stroke-width="0.32"/>
<circle cx="129.84" cy="87.87" r="0.52" fill="#d3dbef" fill-opacity="1" stroke="#37518f" stroke-width="0.32"/>
<circle cx="127.69" cy="91.90" r="0.52" fill="#d3dbef" fill-opacity="1" stroke="#37518f" stroke-width="0.32"/>
<circle cx="128.46" cy="97.07" r="0.52" fill="#d3dbef" fill-opacity="1" stroke="#37518f" stroke-width="0.32"/>
<circle cx="126.17" cy="89.49" r="0.52" fill="#d3dbef" fill-opacity="1" stroke="#37518f" stroke-width="0.32"/>
<circle cx="127.62" cy="89.91" r="0.52" fill="#d3dbef" fill-opacity="1" stroke="#37518f" stroke-width="0.32"/>
<circle cx="124.81" cy="81.41" r="0.52" fill="#d3dbef" fill-opacity="1" stroke="#37518f" stroke-width="0.32"/>
<circle cx="126.05" cy="87.97" r="0.52" fill="#d3dbef" fill-opacity="1" stroke="#37518f" stroke-width="0.32"/>
<circle cx="128.66" cy="86.25" r="0.52" fill="#d3dbef" fill-opacity="1" stroke="#37518f" stroke-width="0.32"/>
<circle cx="126.60" cy="86.50" r="0.52" fill="#d3dbef" fill-opacity="1" stroke="#37518f" stroke-width="0.32"/>
<circle cx="127.45" cy="89.06" r="0.52" fill="#d3dbef" fill-opacity="1" stroke="#37518f" stroke-width="0.32"/>
<circle cx="127.90" cy="93.01" r="0.52" fill="#d3dbef" fill-opacity="1" stroke="#37518f" stroke-width="0.32"/>
<circle cx="128.70" cy="97.45" r="0.52" fill="#d3dbef" fill-opacity="1" stroke="#37518f" stroke-width="0.32"/>
<circle cx="126.89" cy="92.13" r="0.52" fill="#d3dbef" fill-opacity="1" stroke="#37518f" stroke-width="0.32"/>
<circle cx="130.65" cy="79.60" r="0.52" fill="#d3dbef" fill-opacity="1" stroke="#37518f" stroke-width="0.32"/>
<circle cx="128.20" cy="93.14" r="0.52" fill="#d3dbef" fill-opacity="1" stroke="#37518f" stroke-width="0.32"/>
<circle cx="126.50" cy="84.56" r="0.52" fill="#d3dbef" fill-opacity="1" stroke="#37518f" stroke-width="0.32"/>
<circle cx="128.04" cy="91.14" r="0.52" fill="#d3dbef" fill-opacity="1" stroke="#37518f" stroke-width="0.32"/>
<circle cx="128.37" cy="89.25" r="0.52" fill="#d3dbef" fill-opacity="1" stroke="#37518f" stroke-width="0.32"/>
<circle cx="126.75" cy="92.52" r="0.52" fill="#d3dbef" fill-opacity="1" stroke="#37518f" stroke-width="0.32"/>
<circle cx="130.87" cy="82.33" r="0.52" fill="#d3dbef" fill-opacity="1" stroke="#37518f" stroke-width="0.32"/>
<circle cx="128.73" cy="95.80" r="0.52" fill="#d3dbef" fill-opacity="1" stroke="#37518f" stroke-width="0.32"/>
<circle cx="124.40" cy="78.10" r="0.52" fill="#d3dbef" fill-opacity="1" stroke="#37518f" stroke-width="0.32"/>
<circle cx="127.33" cy="82.77" r="0.52" fill="#d3dbef" fill-opacity="1" stroke="#37518f" stroke-width="0.32"/>
<circle cx="126.17" cy="89.89" r="0.52" fill="#d3dbef" fill-opacity="1" stroke="#37518f" stroke-width="0.32"/>
<circle cx="125.85" cy="88.24" r="0.52" fill="#d3dbef" fill-opacity="1" stroke="#37518f" stroke-width="0.32"/>
<circle cx="129.11" cy="79.05" r="0.52" fill="#d3dbef" fill-opacity="1" stroke="#37518f" stroke-width="0.32"/>
<circle cx="128.39" cy="88.42" r="0.52" fill="#d3dbef" fill-opacity="1" stroke="#37518f" stroke-width="0.32"/>
<circle cx="127.68" cy="84.84" r="0.52" fill="#d3dbef" fill-opacity="1" stroke="#37518f" stroke-width="0.32"/>
<circle cx="126.76" cy="81.55" r="0.52" fill="#d3dbef" fill-opacity="1" stroke="#37518f" stroke-width="0.32"/>
<circle cx="128.96" cy="92.35" r="0.52" fill="#d3dbef" fill-opacity="1" stroke="#37518f" stroke-width="0.32"/>
<circle cx="124.94" cy="78.80" r="0.52" fill="#d3dbef" fill-opacity="1" stroke="#37518f" stroke-width="0.32"/>
<circle cx="128.18" cy="93.65" r="0.52" fill="#d3dbef" fill-opacity="1" stroke="#37518f" stroke-width="0.32"/>
<circle cx="126.86" cy="92.83" r="0.52" fill="#d3dbef" fill-opacity="1" stroke="#37518f" stroke-width="0.32"/>
<circle cx="126.53" cy="85.87" r="0.52" fill="#d3dbef" fill-opacity="1" stroke="#37518f" stroke-width="0.32"/>
<circle cx="127.40" cy="93.66" r="0.52" fill="#d3dbef" fill-opacity="1" stroke="#37518f" stroke-width="0.32"/>
<circle cx="129.73" cy="90.50" r="0.52" fill="#d3dbef" fill-opacity="1" stroke="#37518f" stroke-width="0.32"/>
<circle cx="128.09" cy="83.87" r="0.52" fill="#d3dbef" fill-opacity="1" stroke="#37518f" stroke-width="0.32"/>
<circle cx="129.24" cy="92.37" r="0.52" fill="#d3dbef" fill-opacity="1" stroke="#37518f" stroke-width="0.32"/>
<circle cx="127.12" cy="85.94" r="0.52" fill="#d3dbef" fill-opacity="1" stroke="#37518f" stroke-width="0.32"/>
<circle cx="130.57" cy="79.26" r="0.52" fill="#d3dbef" fill-opacity="1" stroke="#37518f" stroke-width="0.32"/>
<circle cx="124.68" cy="78.89" r="0.52" fill="#d3dbef" fill-opacity="1" stroke="#37518f" stroke-width="0.32"/>
<circle cx="127.73" cy="88.70" r="0.52" fill="#d3dbef" fill-opacity="1" stroke="#37518f" stroke-width="0.32"/>
<circle cx="127.04" cy="91.14" r="0.52" fill="#d3dbef" fill-opacity="1" stroke="#37518f" stroke-width="0.32"/>
<circle cx="126.42" cy="92.97" r="0.52" fill="#d3dbef" fill-opacity="1" stroke="#37518f" stroke-width="0.32"/>
<circle cx="128.87" cy="81.61" r="0.52" fill="#d3dbef" fill-opacity="1" stroke="#37518f" stroke-width="0.32"/>
<circle cx="126.33" cy="78.95" r="0.52" fill="#d3dbef" fill-opacity="1" stroke="#37518f" stroke-width="0.32"/>
<circle cx="128.49" cy="91.94" r="0.52" fill="#d3dbef" fill-opacity="1" stroke="#37518f" stroke-width="0.32"/>
<circle cx="125.60" cy="83.01" r="0.52" fill="#d3dbef" fill-opacity="1" stroke="#37518f" stroke-width="0.32"/>
<circle cx="129.09" cy="84.53" r="0.52" fill="#d3dbef" fill-opacity="1" stroke="#37518f" stroke-width="0.32"/>
<circle cx="125.65" cy="84.70" r="0.52" fill="#d3dbef" fill-opacity="1" stroke="#37518f" stroke-width="0.32"/>
<circle cx="128.05" cy="91.63" r="0.52" fill="#d3dbef" fill-opacity="1" stroke="#37518f" stroke-width="0.32"/>
<circle cx="128.87" cy="95.85" r="0.52" fill="#d3dbef" fill-opacity="1" stroke="#37518f" stroke-width="0.32"/>
<circle cx="127.65" cy="95.75" r="0.52" fill="#d3dbef" fill-opacity="1" stroke="#37518f" stroke-width="0.32"/>
<circle cx="127.20" cy="93.52" r="0.52" fill="#d3dbef" fill-opacity="1" stroke="#37518f" stroke-width="0.32"/>
<circle cx="127.20" cy="83.72" r="0.52" fill="#d3dbef" fill-opacity="1" stroke="#37518f" stroke-width="0.32"/>
<circle cx="128.73" cy="96.18" r="0.52" fill="#d3dbef" fill-opacity="1" stroke="#37518f" stroke-width="0.32"/>
<circle cx="126.92" cy="82.32" r="0.52" fill="#d3dbef" fill-opacity="1" stroke="#37518f" stroke-width="0.32"/>
<circle cx="127.03" cy="84.68" r="0.52" fill="#d3dbef" fill-opacity="1" stroke="#37518f" stroke-width="0.32"/>
<circle cx="127.19" cy="85.29" r="0.52" fill="#d3dbef" fill-opacity="1" stroke="#37518f" stroke-width="0.32"/>
<circle cx="128.23" cy="81.24" r="0.52" fill="#d3dbef" fill-opacity="1" stroke="#37518f" stroke-width="0.32"/>
<circle cx="127.93" cy="93.40" r="0.52" fill="#d3dbef" fill-opacity="1" stroke="#37518f" stroke-width="0.32"/>
<circle cx="127.98" cy="94.19" r="0.52" fill="#d3dbef" fill-opacity="1" stroke="#37518f" stroke-width="0.32"/>
<circle cx="129.58" cy="80.87" r="0.52" fill="#d3dbef" fill-opacity="1" stroke="#37518f" stroke-width="0.32"/>
<rect x="123.10" y="62.90" width="10.20" height="14.40" fill="none" stroke="#1e2236" stroke-width="0.6"/>
<circle cx="126.60" cy="48.50" r="0.7" fill="#1a2a55" fill-opacity="1"/>
<line x1="123.10" y1="70.40" x2="125.00" y2="70.40" stroke="#111" stroke-width="0.8" />
<line x1="131.40" y1="70.40" x2="133.30" y2="70.40" stroke="#111" stroke-width="0.8" />
<circle cx="127.20" cy="62.20" r="0.5" fill="#111" fill-opacity="1"/>
<circle cx="128.20" cy="72.60" r="0.5" fill="#111" fill-opacity="1"/>
<line x1="140.80" y1="48.30" x2="140.80" y2="72.80" stroke="#777" stroke-width="0.5" />
<rect x="136.60" y="55.50" width="8.90" height="9.40" fill="#f6dc92" stroke="#4a4030" stroke-width="0.6"/>
<circle cx="140.23" cy="69.64" r="0.65" fill="#f3c840" fill-opacity="0.95" stroke="#d9a81a" stroke-width="0.15"/>
<circle cx="140.84" cy="49.03" r="0.65" fill="#f3c840" fill-opacity="0.95" stroke="#d9a81a" stroke-width="0.15"/>
<circle cx="141.26" cy="61.56" r="0.65" fill="#f3c840" fill-opacity="0.95" stroke="#d9a81a" stroke-width="0.15"/>
<circle cx="141.19" cy="71.69" r="0.65" fill="#f3c840" fill-opacity="0.95" stroke="#d9a81a" stroke-width="0.15"/>
<circle cx="139.67" cy="67.80" r="0.65" fill="#f3c840" fill-opacity="0.95" stroke="#d9a81a" stroke-width="0.15"/>
<circle cx="142.76" cy="61.62" r="0.65" fill="#f3c840" fill-opacity="0.95" stroke="#d9a81a" stroke-width="0.15"/>
<circle cx="139.71" cy="50.52" r="0.65" fill="#f3c840" fill-opacity="0.95" stroke="#d9a81a" stroke-width="0.15"/>
<circle cx="141.84" cy="66.19" r="0.65" fill="#f3c840" fill-opacity="0.95" stroke="#d9a81a" stroke-width="0.15"/>
<circle cx="141.15" cy="50.53" r="0.65" fill="#f3c840" fill-opacity="0.95" stroke="#d9a81a" stroke-width="0.15"/>
<circle cx="141.44" cy="51.95" r="0.65" fill="#f3c840" fill-opacity="0.95" stroke="#d9a81a" stroke-width="0.15"/>
<circle cx="139.07" cy="64.08" r="0.65" fill="#f3c840" fill-opacity="0.95" stroke="#d9a81a" stroke-width="0.15"/>
<circle cx="141.49" cy="53.79" r="0.65" fill="#f3c840" fill-opacity="0.95" stroke="#d9a81a" stroke-width="0.15"/>
<circle cx="142.60" cy="61.02" r="0.65" fill="#f3c840" fill-opacity="0.95" stroke="#d9a81a" stroke-width="0.15"/>
<circle cx="139.70" cy="57.97" r="0.65" fill="#f3c840" fill-opacity="0.95" stroke="#d9a81a" stroke-width="0.15"/>
<circle cx="141.25" cy="71.74" r="0.65" fill="#f3c840" fill-opacity="0.95" stroke="#d9a81a" stroke-width="0.15"/>
<circle cx="141.05" cy="60.35" r="0.65" fill="#f3c840" fill-opacity="0.95" stroke="#d9a81a" stroke-width="0.15"/>
<circle cx="141.34" cy="65.80" r="0.65" fill="#f3c840" fill-opacity="0.95" stroke="#d9a81a" stroke-width="0.15"/>
<circle cx="140.57" cy="70.46" r="0.65" fill="#f3c840" fill-opacity="0.95" stroke="#d9a81a" stroke-width="0.15"/>
<circle cx="141.23" cy="68.33" r="0.65" fill="#f3c840" fill-opacity="0.95" stroke="#d9a81a" stroke-width="0.15"/>
<circle cx="141.60" cy="68.98" r="0.65" fill="#f3c840" fill-opacity="0.95" stroke="#d9a81a" stroke-width="0.15"/>
<circle cx="141.81" cy="68.51" r="0.65" fill="#f3c840" fill-opacity="0.95" stroke="#d9a81a" stroke-width="0.15"/>
<circle cx="141.16" cy="71.49" r="0.65" fill="#f3c840" fill-opacity="0.95" stroke="#d9a81a" stroke-width="0.15"/>
<circle cx="142.23" cy="61.07" r="0.65" fill="#f3c840" fill-opacity="0.95" stroke="#d9a81a" stroke-width="0.15"/>
<circle cx="140.60" cy="67.75" r="0.65" fill="#f3c840" fill-opacity="0.95" stroke="#d9a81a" stroke-width="0.15"/>
<circle cx="138.39" cy="58.59" r="0.65" fill="#f3c840" fill-opacity="0.95" stroke="#d9a81a" stroke-width="0.15"/>
<circle cx="142.08" cy="66.29" r="0.65" fill="#f3c840" fill-opacity="0.95" stroke="#d9a81a" stroke-width="0.15"/>
<circle cx="138.54" cy="57.51" r="0.65" fill="#f3c840" fill-opacity="0.95" stroke="#d9a81a" stroke-width="0.15"/>
<circle cx="140.60" cy="53.40" r="0.65" fill="#f3c840" fill-opacity="0.95" stroke="#d9a81a" stroke-width="0.15"/>
<circle cx="143.99" cy="55.51" r="0.65" fill="#f3c840" fill-opacity="0.95" stroke="#d9a81a" stroke-width="0.15"/>
<circle cx="140.30" cy="49.92" r="0.65" fill="#f3c840" fill-opacity="0.95" stroke="#d9a81a" stroke-width="0.15"/>
<circle cx="141.18" cy="51.26" r="0.65" fill="#f3c840" fill-opacity="0.95" stroke="#d9a81a" stroke-width="0.15"/>
<circle cx="139.97" cy="67.12" r="0.65" fill="#f3c840" fill-opacity="0.95" stroke="#d9a81a" stroke-width="0.15"/>
<circle cx="140.69" cy="50.00" r="0.65" fill="#f3c840" fill-opacity="0.95" stroke="#d9a81a" stroke-width="0.15"/>
<circle cx="143.58" cy="62.52" r="0.65" fill="#f3c840" fill-opacity="0.95" stroke="#d9a81a" stroke-width="0.15"/>
<circle cx="139.78" cy="49.37" r="0.65" fill="#f3c840" fill-opacity="0.95" stroke="#d9a81a" stroke-width="0.15"/>
<circle cx="140.07" cy="52.93" r="0.65" fill="#f3c840" fill-opacity="0.95" stroke="#d9a81a" stroke-width="0.15"/>
<circle cx="141.36" cy="54.15" r="0.65" fill="#f3c840" fill-opacity="0.95" stroke="#d9a81a" stroke-width="0.15"/>
<circle cx="138.92" cy="62.77" r="0.65" fill="#f3c840" fill-opacity="0.95" stroke="#d9a81a" stroke-width="0.15"/>
<circle cx="140.23" cy="52.94" r="0.65" fill="#f3c840" fill-opacity="0.95" stroke="#d9a81a" stroke-width="0.15"/>
<circle cx="141.47" cy="52.64" r="0.65" fill="#f3c840" fill-opacity="0.95" stroke="#d9a81a" stroke-width="0.15"/>
<circle cx="141.13" cy="55.98" r="0.65" fill="#f3c840" fill-opacity="0.95" stroke="#d9a81a" stroke-width="0.15"/>
<circle cx="140.75" cy="68.11" r="0.65" fill="#f3c840" fill-opacity="0.95" stroke="#d9a81a" stroke-width="0.15"/>
<circle cx="141.81" cy="54.75" r="0.65" fill="#f3c840" fill-opacity="0.95" stroke="#d9a81a" stroke-width="0.15"/>
<circle cx="140.39" cy="70.44" r="0.65" fill="#f3c840" fill-opacity="0.95" stroke="#d9a81a" stroke-width="0.15"/>
<circle cx="143.91" cy="61.64" r="0.65" fill="#f3c840" fill-opacity="0.95" stroke="#d9a81a" stroke-width="0.15"/>
<circle cx="138.90" cy="60.08" r="0.65" fill="#f3c840" fill-opacity="0.95" stroke="#d9a81a" stroke-width="0.15"/>
<circle cx="141.96" cy="49.69" r="0.65" fill="#f3c840" fill-opacity="0.95" stroke="#d9a81a" stroke-width="0.15"/>
<circle cx="140.50" cy="67.73" r="0.65" fill="#f3c840" fill-opacity="0.95" stroke="#d9a81a" stroke-width="0.15"/>
<circle cx="139.00" cy="76.80" r="0.6" fill="#f3c840" fill-opacity="1"/>
<circle cx="140.60" cy="79.70" r="0.6" fill="#f3c840" fill-opacity="1"/>
<circle cx="141.30" cy="74.60" r="0.6" fill="#f3c840" fill-opacity="1"/>
<line x1="136.60" y1="59.50" x2="138.40" y2="59.50" stroke="#111" stroke-width="0.8" />
<line x1="143.70" y1="59.50" x2="145.50" y2="59.50" stroke="#111" stroke-width="0.8" />
<rect x="149.90" y="51.80" width="9.00" height="7.40" fill="#efd3a2" stroke="#3b2410" stroke-width="0.6"/>
<line x1="149.90" y1="53.00" x2="158.90" y2="53.00" stroke="#5a3210" stroke-width="1.0" />
<line x1="151.50" y1="56.00" x2="157.30" y2="56.00" stroke="#5a3210" stroke-width="0.7" />
<circle cx="153.80" cy="47.00" r="0.85" fill="#4a2606" fill-opacity="1"/>
<circle cx="155.30" cy="47.80" r="0.85" fill="#4a2606" fill-opacity="1"/>
<circle cx="154.20" cy="49.00" r="0.85" fill="#4a2606" fill-opacity="1"/>
<circle cx="153.40" cy="50.20" r="0.85" fill="#4a2606" fill-opacity="1"/>
<circle cx="155.00" cy="51.00" r="0.85" fill="#4a2606" fill-opacity="1"/>
<circle cx="154.00" cy="53.40" r="0.85" fill="#4a2606" fill-opacity="1"/>
<circle cx="155.60" cy="54.80" r="0.85" fill="#4a2606" fill-opacity="1"/>
<circle cx="155.00" cy="60.20" r="0.85" fill="#4a2606" fill-opacity="1"/>
<circle cx="154.00" cy="61.80" r="0.85" fill="#4a2606" fill-opacity="1"/>
<circle cx="155.30" cy="63.40" r="0.85" fill="#4a2606" fill-opacity="1"/>
<circle cx="154.20" cy="64.80" r="0.85" fill="#4a2606" fill-opacity="1"/>
<circle cx="153.60" cy="66.60" r="0.85" fill="#4a2606" fill-opacity="1"/>
<circle cx="154.60" cy="67.60" r="0.85" fill="#4a2606" fill-opacity="1"/>
<circle cx="153.20" cy="69.40" r="0.85" fill="#4a2606" fill-opacity="1"/>
<line x1="163.60" y1="46.30" x2="172.20" y2="46.30" stroke="#111" stroke-width="0.6" />
<circle cx="164.20" cy="46.30" r="0.55" fill="#111" fill-opacity="1"/>
<circle cx="171.60" cy="46.30" r="0.55" fill="#111" fill-opacity="1"/>
<circle cx="165.80" cy="46.80" r="0.6" fill="#92cf78" fill-opacity="0.9" stroke="#5aa040" stroke-width="0.15"/>
<circle cx="167.40" cy="46.90" r="0.6" fill="#92cf78" fill-opacity="0.9" stroke="#5aa040" stroke-width="0.15"/>
<circle cx="169.00" cy="46.90" r="0.6" fill="#92cf78" fill-opacity="0.9" stroke="#5aa040" stroke-width="0.15"/>
<circle cx="170.50" cy="46.90" r="0.6" fill="#92cf78" fill-opacity="0.9" stroke="#5aa040" stroke-width="0.15"/>
<circle cx="166.40" cy="48.00" r="0.6" fill="#92cf78" fill-opacity="0.9" stroke="#5aa040" stroke-width="0.15"/>
<circle cx="168.00" cy="47.90" r="0.6" fill="#92cf78" fill-opacity="0.9" stroke="#5aa040" stroke-width="0.15"/>
<circle cx="169.60" cy="48.20" r="0.6" fill="#92cf78" fill-opacity="0.9" stroke="#5aa040" stroke-width="0.15"/>
<circle cx="167.20" cy="49.20" r="0.6" fill="#92cf78" fill-opacity="0.9" stroke="#5aa040" stroke-width="0.15"/>
<circle cx="168.60" cy="49.60" r="0.6" fill="#92cf78" fill-opacity="0.9" stroke="#5aa040" stroke-width="0.15"/>
<circle cx="167.80" cy="50.80" r="0.6" fill="#92cf78" fill-opacity="0.9" stroke="#5aa040" stroke-width="0.15"/>
<circle cx="169.20" cy="51.20" r="0.6" fill="#92cf78" fill-opacity="0.9" stroke="#5aa040" stroke-width="0.15"/>
<circle cx="166.60" cy="50.40" r="0.6" fill="#92cf78" fill-opacity="0.9" stroke="#5aa040" stroke-width="0.15"/>
<circle cx="169.50" cy="48.50" r="0.5" fill="#2f6a1a" fill-opacity="1"/>
<text x="132.00" y="55.80" font-size="2.3" fill="#5a78b8" text-anchor="middle" font-weight="normal" font-style="normal" >5%</text>
<text x="146.30" y="55.80" font-size="2.3" fill="#e8b828" text-anchor="middle" font-weight="normal" font-style="normal" >27%</text>
<text x="161.40" y="55.80" font-size="2.3" fill="#e8d49a" text-anchor="middle" font-weight="normal" font-style="normal" >9%</text>
<text x="172.80" y="55.80" font-size="2.3" fill="#a8d890" text-anchor="middle" font-weight="normal" font-style="normal" >3%</text>
<path d="M176.2,54.8 C178.6,55.0 179.4,57.2 178.2,60.8 L177.6,62.2" fill="none" stroke="#333" stroke-width="0.45"/>
<text x="178.80" y="67.80" font-size="3.6" fill="#333" text-anchor="end" font-weight="normal" font-style="normal" textLength="17.6" lengthAdjust="spacingAndGlyphs" >% borderline</text>
<text x="178.80" y="71.40" font-size="3.6" fill="#333" text-anchor="end" font-weight="normal" font-style="normal" textLength="13.2" lengthAdjust="spacingAndGlyphs" >cases within</text>
<text x="178.80" y="75.00" font-size="3.6" fill="#333" text-anchor="end" font-weight="normal" font-style="normal" textLength="10.2" lengthAdjust="spacingAndGlyphs" >subgroup</text>
<text x="129.90" y="111.30" font-size="4.4" fill="#4a6aa8" text-anchor="end" font-weight="normal" font-style="normal" transform="rotate(-45 129.90 111.30)" stroke="#4a6aa8" stroke-width="0.1">m-CLL</text>
<text x="143.20" y="111.30" font-size="4.2" fill="#e9b92a" text-anchor="end" font-weight="normal" font-style="normal" transform="rotate(-45 143.20 111.30)" stroke="#e9b92a" stroke-width="0.1">i-CLL w/o IGLV3-21<tspan font-size='2.4' dy='-1.8'>R110</tspan></text>
<text x="156.60" y="111.30" font-size="4.2" fill="#a8733c" text-anchor="end" font-weight="normal" font-style="normal" transform="rotate(-45 156.60 111.30)" stroke="#a8733c" stroke-width="0.1">i-CLL w/ IGLV3-21<tspan font-size='2.4' dy='-1.8'>R110</tspan></text>
<text x="170.50" y="111.30" font-size="4.4" fill="#6aa843" text-anchor="end" font-weight="normal" font-style="normal" transform="rotate(-45 170.50 111.30)" stroke="#6aa843" stroke-width="0.1">u-CLL</text>
<text x="198.40" y="16.60" font-size="12" fill="#000" text-anchor="start" font-weight="bold" font-style="normal" >D</text>
<text x="218.90" y="23.00" font-size="5.6" fill="#000" text-anchor="start" font-weight="bold" font-style="normal" textLength="22.6" lengthAdjust="spacingAndGlyphs" >Subtype:</text>
<rect x="218.90" y="26.70" width="5.40" height="5.30" fill="#24427c" />
<text x="227.20" y="30.90" font-size="4.6" fill="#4a4a4a" text-anchor="start" font-weight="normal" font-style="normal" textLength="13.6" lengthAdjust="spacingAndGlyphs" >m-CLL</text>
<rect x="249.70" y="26.70" width="5.40" height="5.30" fill="#efc024" />
<text x="258.20" y="30.90" font-size="4.6" fill="#4a4a4a" text-anchor="start" font-weight="normal" font-style="normal" textLength="42.6" lengthAdjust="spacingAndGlyphs" >i-CLL w/o IGLV3-21<tspan font-size='2.4' dy='-2.4'>R110</tspan></text>
<rect x="310.70" y="26.70" width="5.40" height="5.30" fill="#a3601f" />
<text x="319.70" y="30.90" font-size="4.6" fill="#4a4a4a" text-anchor="start" font-weight="normal" font-style="normal" textLength="39.9" lengthAdjust="spacingAndGlyphs" >i-CLL w/ IGLV3-21<tspan font-size='2.4' dy='-2.4'>R110</tspan></text>
<rect x="369.40" y="26.70" width="5.40" height="5.30" fill="#67a63d" />
<text x="377.50" y="30.90" font-size="4.6" fill="#4a4a4a" text-anchor="start" font-weight="normal" font-style="normal" textLength="11.2" lengthAdjust="spacingAndGlyphs" >u-CLL</text>
<line x1="218.70" y1="41.30" x2="218.70" y2="103.00" stroke="#000" stroke-width="1.15" />
<line x1="215.90" y1="102.50" x2="218.70" y2="102.50" stroke="#000" stroke-width="1.1" />
<text x="213.00" y="104.05" font-size="4.3" fill="#1a1a1a" text-anchor="end" font-weight="normal" font-style="normal" stroke="#1a1a1a" stroke-width="0.14">0</text>
<line x1="215.90" y1="88.15" x2="218.70" y2="88.15" stroke="#000" stroke-width="1.1" />
<text x="213.00" y="89.70" font-size="4.3" fill="#1a1a1a" text-anchor="end" font-weight="normal" font-style="normal" stroke="#1a1a1a" stroke-width="0.14">10</text>
<line x1="215.90" y1="73.80" x2="218.70" y2="73.80" stroke="#000" stroke-width="1.1" />
<text x="213.00" y="75.35" font-size="4.3" fill="#1a1a1a" text-anchor="end" font-weight="normal" font-style="normal" stroke="#1a1a1a" stroke-width="0.14">20</text>
<line x1="215.90" y1="59.45" x2="218.70" y2="59.45" stroke="#000" stroke-width="1.1" />
<text x="213.00" y="61.00" font-size="4.3" fill="#1a1a1a" text-anchor="end" font-weight="normal" font-style="normal" stroke="#1a1a1a" stroke-width="0.14">30</text>
<line x1="215.90" y1="45.10" x2="218.70" y2="45.10" stroke="#000" stroke-width="1.1" />
<text x="213.00" y="46.65" font-size="4.3" fill="#1a1a1a" text-anchor="end" font-weight="normal" font-style="normal" stroke="#1a1a1a" stroke-width="0.14">40</text>
<text x="203.20" y="71.10" font-size="5.4" fill="#1a1a1a" text-anchor="middle" font-weight="normal" font-style="normal" textLength="55.2" lengthAdjust="spacingAndGlyphs" transform="rotate(-90 203.20 71.10)" stroke="#1a1a1a" stroke-width="0.1">% usage within subgroup</text>
<rect x="219.65" y="93.46" width="5.70" height="9.04" fill="#67a63d" />
<rect x="219.65" y="88.87" width="5.70" height="4.59" fill="#a3601f" />
<rect x="219.65" y="85.28" width="5.70" height="3.59" fill="#efc024" />
<rect x="219.65" y="81.55" width="5.70" height="3.73" fill="#24427c" />
<rect x="225.75" y="97.33" width="5.70" height="5.17" fill="#67a63d" />
<rect x="225.75" y="91.16" width="5.70" height="6.17" fill="#efc024" />
<rect x="225.75" y="88.44" width="5.70" height="2.73" fill="#24427c" />
<rect x="231.85" y="102.07" width="5.70" height="0.43" fill="#a3601f" />
<rect x="231.85" y="100.06" width="5.70" height="2.01" fill="#efc024" />
<rect x="231.85" y="96.76" width="5.70" height="3.30" fill="#24427c" />
<rect x="244.05" y="100.35" width="5.70" height="2.15" fill="#67a63d" />
<rect x="244.05" y="86.14" width="5.70" height="14.21" fill="#a3601f" />
<rect x="244.05" y="74.37" width="5.70" height="11.77" fill="#efc024" />
<rect x="244.05" y="72.36" width="5.70" height="2.01" fill="#24427c" />
<rect x="246.25" y="69.56" width="1.30" height="1.50" rx="0.4" fill="#b0b0b0"/>
<rect x="250.16" y="97.48" width="5.70" height="5.02" fill="#a3601f" />
<rect x="262.36" y="99.34" width="5.70" height="3.16" fill="#67a63d" />
<rect x="262.36" y="97.62" width="5.70" height="1.72" fill="#24427c" />
<rect x="274.56" y="60.31" width="5.70" height="42.19" fill="#67a63d" />
<rect x="274.56" y="51.27" width="5.70" height="9.04" fill="#efc024" />
<rect x="274.56" y="49.12" width="5.70" height="2.15" fill="#24427c" />
<rect x="276.16" y="47.02" width="2.50" height="0.80" rx="0.4" fill="#b0b0b0"/>
<rect x="280.66" y="101.06" width="5.70" height="1.44" fill="#67a63d" />
<rect x="280.66" y="98.19" width="5.70" height="2.87" fill="#24427c" />
<rect x="292.86" y="101.50" width="5.70" height="1.00" fill="#67a63d" />
<rect x="298.96" y="101.78" width="5.70" height="0.72" fill="#67a63d" />
<rect x="298.96" y="100.49" width="5.70" height="1.29" fill="#24427c" />
<rect x="305.06" y="101.50" width="5.70" height="1.00" fill="#67a63d" />
<rect x="305.06" y="96.76" width="5.70" height="4.74" fill="#a3601f" />
<rect x="305.06" y="85.28" width="5.70" height="11.48" fill="#efc024" />
<rect x="305.06" y="72.36" width="5.70" height="12.92" fill="#24427c" />
<rect x="307.26" y="69.56" width="1.30" height="1.50" rx="0.4" fill="#b0b0b0"/>
<rect x="311.16" y="100.20" width="5.70" height="2.30" fill="#67a63d" />
<rect x="311.16" y="97.19" width="5.70" height="3.01" fill="#efc024" />
<rect x="311.16" y="96.47" width="5.70" height="0.72" fill="#24427c" />
<rect x="317.27" y="97.19" width="5.70" height="5.31" fill="#67a63d" />
<rect x="317.27" y="92.31" width="5.70" height="4.88" fill="#a3601f" />
<rect x="317.27" y="91.45" width="5.70" height="0.86" fill="#efc024" />
<rect x="317.27" y="88.87" width="5.70" height="2.58" fill="#24427c" />
<rect x="323.37" y="100.63" width="5.70" height="1.87" fill="#67a63d" />
<rect x="323.37" y="96.47" width="5.70" height="4.16" fill="#a3601f" />
<rect x="323.37" y="89.87" width="5.70" height="6.60" fill="#efc024" />
<rect x="323.37" y="87.86" width="5.70" height="2.01" fill="#24427c" />
<rect x="329.47" y="99.63" width="5.70" height="2.87" fill="#efc024" />
<rect x="329.47" y="98.77" width="5.70" height="0.86" fill="#24427c" />
<rect x="335.57" y="100.20" width="5.70" height="2.30" fill="#67a63d" />
<rect x="335.57" y="52.71" width="5.70" height="47.50" fill="#a3601f" />
<rect x="335.57" y="46.53" width="5.70" height="6.17" fill="#efc024" />
<rect x="335.57" y="44.10" width="5.70" height="2.44" fill="#24427c" />
<rect x="336.22" y="42.00" width="4.40" height="0.80" rx="0.4" fill="#b0b0b0"/>
<rect x="341.67" y="99.20" width="5.70" height="3.30" fill="#67a63d" />
<rect x="341.67" y="80.40" width="5.70" height="18.80" fill="#a3601f" />
<rect x="341.67" y="65.76" width="5.70" height="14.64" fill="#efc024" />
<rect x="341.67" y="51.70" width="5.70" height="14.06" fill="#24427c" />
<rect x="343.87" y="48.90" width="1.30" height="1.50" rx="0.4" fill="#b0b0b0"/>
<rect x="347.77" y="95.33" width="5.70" height="7.17" fill="#67a63d" />
<rect x="347.77" y="89.30" width="5.70" height="6.03" fill="#efc024" />
<rect x="347.77" y="81.69" width="5.70" height="7.61" fill="#24427c" />
<rect x="353.87" y="101.78" width="5.70" height="0.72" fill="#67a63d" />
<rect x="359.97" y="98.19" width="5.70" height="4.31" fill="#67a63d" />
<rect x="359.97" y="92.45" width="5.70" height="5.74" fill="#efc024" />
<rect x="359.97" y="88.15" width="5.70" height="4.30" fill="#24427c" />
<rect x="366.07" y="101.78" width="5.70" height="0.72" fill="#67a63d" />
<rect x="372.17" y="98.91" width="5.70" height="3.59" fill="#67a63d" />
<rect x="372.17" y="85.28" width="5.70" height="13.63" fill="#a3601f" />
<rect x="372.17" y="76.24" width="5.70" height="9.04" fill="#efc024" />
<rect x="372.17" y="70.36" width="5.70" height="5.88" fill="#24427c" />
<rect x="378.28" y="99.34" width="5.70" height="3.16" fill="#24427c" />
<rect x="384.38" y="88.15" width="5.70" height="14.35" fill="#a3601f" />
<rect x="384.38" y="81.69" width="5.70" height="6.46" fill="#efc024" />
<rect x="384.38" y="78.11" width="5.70" height="3.59" fill="#24427c" />
<rect x="386.58" y="75.31" width="1.30" height="1.50" rx="0.4" fill="#b0b0b0"/>
<rect x="390.48" y="98.05" width="5.70" height="4.45" fill="#a3601f" />
<rect x="392.68" y="95.25" width="1.30" height="1.50" rx="0.4" fill="#b0b0b0"/>
<rect x="396.58" y="101.64" width="5.70" height="0.86" fill="#24427c" />
<rect x="402.68" y="100.20" width="5.70" height="2.30" fill="#efc024" />
<rect x="402.68" y="95.61" width="5.70" height="4.59" fill="#24427c" />
<rect x="408.78" y="100.49" width="5.70" height="2.01" fill="#24427c" />
<rect x="414.88" y="100.20" width="5.70" height="2.30" fill="#67a63d" />
<rect x="414.88" y="97.33" width="5.70" height="2.87" fill="#efc024" />
<rect x="414.88" y="95.04" width="5.70" height="2.30" fill="#24427c" />
<rect x="420.98" y="98.91" width="5.70" height="3.59" fill="#efc024" />
<rect x="420.98" y="94.18" width="5.70" height="4.74" fill="#24427c" />
<rect x="433.18" y="98.91" width="5.70" height="3.59" fill="#efc024" />
<rect x="439.29" y="98.48" width="5.70" height="4.02" fill="#efc024" />
<rect x="439.29" y="98.05" width="5.70" height="0.43" fill="#24427c" />
<rect x="445.39" y="98.48" width="5.70" height="4.02" fill="#efc024" />
<rect x="445.39" y="98.05" width="5.70" height="0.43" fill="#24427c" />
<rect x="451.49" y="96.19" width="5.70" height="6.31" fill="#67a63d" />
<rect x="451.49" y="87.15" width="5.70" height="9.04" fill="#efc024" />
<rect x="451.49" y="62.03" width="5.70" height="25.11" fill="#24427c" />
<rect x="452.54" y="59.93" width="3.60" height="0.80" rx="0.4" fill="#b0b0b0"/>
<rect x="463.69" y="94.75" width="5.70" height="7.75" fill="#67a63d" />
<rect x="463.69" y="90.02" width="5.70" height="4.74" fill="#a3601f" />
<rect x="463.69" y="85.85" width="5.70" height="4.16" fill="#24427c" />
<rect x="469.79" y="98.91" width="5.70" height="3.59" fill="#67a63d" />
<rect x="469.79" y="96.19" width="5.70" height="2.73" fill="#efc024" />
<rect x="469.79" y="90.02" width="5.70" height="6.17" fill="#24427c" />
<rect x="475.89" y="100.06" width="5.70" height="2.44" fill="#efc024" />
<rect x="475.89" y="97.33" width="5.70" height="2.73" fill="#24427c" />
<rect x="481.99" y="99.77" width="5.70" height="2.73" fill="#67a63d" />
<rect x="481.99" y="99.49" width="5.70" height="0.29" fill="#24427c" />
<rect x="488.09" y="100.35" width="5.70" height="2.15" fill="#67a63d" />
<rect x="488.09" y="98.19" width="5.70" height="2.15" fill="#efc024" />
<rect x="488.09" y="93.89" width="5.70" height="4.30" fill="#24427c" />
<rect x="494.19" y="100.06" width="5.70" height="2.44" fill="#efc024" />
<rect x="494.19" y="98.19" width="5.70" height="1.87" fill="#24427c" />
<rect x="506.40" y="98.91" width="5.70" height="3.59" fill="#efc024" />
<line x1="218.20" y1="102.50" x2="512.60" y2="102.50" stroke="#000" stroke-width="1.15" />
<line x1="222.50" y1="102.50" x2="222.50" y2="105.60" stroke="#000" stroke-width="1.15" />
<text x="225.10" y="111.60" font-size="4.6" fill="#505050" text-anchor="end" font-weight="bold" font-style="normal" textLength="17.31" lengthAdjust="spacingAndGlyphs" transform="rotate(-45 225.10 111.60)" stroke="#505050" stroke-width="0.02">IGHV1-2</text>
<line x1="228.60" y1="102.50" x2="228.60" y2="105.60" stroke="#000" stroke-width="1.15" />
<text x="231.20" y="111.60" font-size="4.6" fill="#505050" text-anchor="end" font-weight="bold" font-style="normal" textLength="17.31" lengthAdjust="spacingAndGlyphs" transform="rotate(-45 231.20 111.60)" stroke="#505050" stroke-width="0.02">IGHV1-3</text>
<line x1="234.70" y1="102.50" x2="234.70" y2="105.60" stroke="#000" stroke-width="1.15" />
<text x="237.30" y="111.60" font-size="4.6" fill="#505050" text-anchor="end" font-weight="bold" font-style="normal" textLength="17.31" lengthAdjust="spacingAndGlyphs" transform="rotate(-45 237.30 111.60)" stroke="#505050" stroke-width="0.02">IGHV1-8</text>
<line x1="240.80" y1="102.50" x2="240.80" y2="105.60" stroke="#000" stroke-width="1.15" />
<text x="243.40" y="111.60" font-size="4.6" fill="#505050" text-anchor="end" font-weight="bold" font-style="normal" textLength="19.79" lengthAdjust="spacingAndGlyphs" transform="rotate(-45 243.40 111.60)" stroke="#505050" stroke-width="0.02">IGHV1-17</text>
<line x1="246.90" y1="102.50" x2="246.90" y2="105.60" stroke="#000" stroke-width="1.15" />
<text x="249.50" y="111.60" font-size="4.6" fill="#505050" text-anchor="end" font-weight="bold" font-style="normal" textLength="19.79" lengthAdjust="spacingAndGlyphs" transform="rotate(-45 249.50 111.60)" stroke="#505050" stroke-width="0.02">IGHV1-18</text>
<line x1="253.00" y1="102.50" x2="253.00" y2="105.60" stroke="#000" stroke-width="1.15" />
<text x="255.60" y="111.60" font-size="4.6" fill="#505050" text-anchor="end" font-weight="bold" font-style="normal" textLength="19.79" lengthAdjust="spacingAndGlyphs" transform="rotate(-45 255.60 111.60)" stroke="#505050" stroke-width="0.02">IGHV1-24</text>
<line x1="259.11" y1="102.50" x2="259.11" y2="105.60" stroke="#000" stroke-width="1.15" />
<text x="261.71" y="111.60" font-size="4.6" fill="#505050" text-anchor="end" font-weight="bold" font-style="normal" textLength="19.79" lengthAdjust="spacingAndGlyphs" transform="rotate(-45 261.71 111.60)" stroke="#505050" stroke-width="0.02">IGHV1-45</text>
<line x1="265.21" y1="102.50" x2="265.21" y2="105.60" stroke="#000" stroke-width="1.15" />
<text x="267.81" y="111.60" font-size="4.6" fill="#505050" text-anchor="end" font-weight="bold" font-style="normal" textLength="19.79" lengthAdjust="spacingAndGlyphs" transform="rotate(-45 267.81 111.60)" stroke="#505050" stroke-width="0.02">IGHV1-46</text>
<line x1="271.31" y1="102.50" x2="271.31" y2="105.60" stroke="#000" stroke-width="1.15" />
<text x="273.91" y="111.60" font-size="4.6" fill="#505050" text-anchor="end" font-weight="bold" font-style="normal" textLength="19.79" lengthAdjust="spacingAndGlyphs" transform="rotate(-45 273.91 111.60)" stroke="#505050" stroke-width="0.02">IGHV1-58</text>
<line x1="277.41" y1="102.50" x2="277.41" y2="105.60" stroke="#000" stroke-width="1.15" />
<text x="280.01" y="111.60" font-size="4.6" fill="#505050" text-anchor="end" font-weight="bold" font-style="normal" textLength="19.79" lengthAdjust="spacingAndGlyphs" transform="rotate(-45 280.01 111.60)" stroke="#505050" stroke-width="0.02">IGHV1-69</text>
<line x1="283.51" y1="102.50" x2="283.51" y2="105.60" stroke="#000" stroke-width="1.15" />
<text x="286.11" y="111.60" font-size="4.6" fill="#505050" text-anchor="end" font-weight="bold" font-style="normal" textLength="17.31" lengthAdjust="spacingAndGlyphs" transform="rotate(-45 286.11 111.60)" stroke="#505050" stroke-width="0.02">IGHV2-5</text>
<line x1="289.61" y1="102.50" x2="289.61" y2="105.60" stroke="#000" stroke-width="1.15" />
<text x="292.21" y="111.60" font-size="4.6" fill="#505050" text-anchor="end" font-weight="bold" font-style="normal" textLength="19.79" lengthAdjust="spacingAndGlyphs" transform="rotate(-45 292.21 111.60)" stroke="#505050" stroke-width="0.02">IGHV2-26</text>
<line x1="295.71" y1="102.50" x2="295.71" y2="105.60" stroke="#000" stroke-width="1.15" />
<text x="298.31" y="111.60" font-size="4.6" fill="#505050" text-anchor="end" font-weight="bold" font-style="normal" textLength="19.79" lengthAdjust="spacingAndGlyphs" transform="rotate(-45 298.31 111.60)" stroke="#505050" stroke-width="0.02">IGHV2-70</text>
<line x1="301.81" y1="102.50" x2="301.81" y2="105.60" stroke="#000" stroke-width="1.15" />
<text x="304.41" y="111.60" font-size="4.6" fill="#505050" text-anchor="end" font-weight="bold" font-style="normal" textLength="17.31" lengthAdjust="spacingAndGlyphs" transform="rotate(-45 304.41 111.60)" stroke="#505050" stroke-width="0.02">IGHV3-7</text>
<line x1="307.91" y1="102.50" x2="307.91" y2="105.60" stroke="#000" stroke-width="1.15" />
<text x="310.51" y="111.60" font-size="4.6" fill="#505050" text-anchor="end" font-weight="bold" font-style="normal" textLength="17.31" lengthAdjust="spacingAndGlyphs" transform="rotate(-45 310.51 111.60)" stroke="#505050" stroke-width="0.02">IGHV3-9</text>
<line x1="314.01" y1="102.50" x2="314.01" y2="105.60" stroke="#000" stroke-width="1.15" />
<text x="316.62" y="111.60" font-size="4.6" fill="#505050" text-anchor="end" font-weight="bold" font-style="normal" textLength="19.46" lengthAdjust="spacingAndGlyphs" transform="rotate(-45 316.62 111.60)" stroke="#505050" stroke-width="0.02">IGHV3-11</text>
<line x1="320.12" y1="102.50" x2="320.12" y2="105.60" stroke="#000" stroke-width="1.15" />
<text x="322.72" y="111.60" font-size="4.6" fill="#505050" text-anchor="end" font-weight="bold" font-style="normal" textLength="19.79" lengthAdjust="spacingAndGlyphs" transform="rotate(-45 322.72 111.60)" stroke="#505050" stroke-width="0.02">IGHV3-13</text>
<line x1="326.22" y1="102.50" x2="326.22" y2="105.60" stroke="#000" stroke-width="1.15" />
<text x="328.82" y="111.60" font-size="4.6" fill="#505050" text-anchor="end" font-weight="bold" font-style="normal" textLength="19.79" lengthAdjust="spacingAndGlyphs" transform="rotate(-45 328.82 111.60)" stroke="#505050" stroke-width="0.02">IGHV3-15</text>
<line x1="332.32" y1="102.50" x2="332.32" y2="105.60" stroke="#000" stroke-width="1.15" />
<text x="334.92" y="111.60" font-size="4.6" fill="#505050" text-anchor="end" font-weight="bold" font-style="normal" textLength="19.79" lengthAdjust="spacingAndGlyphs" transform="rotate(-45 334.92 111.60)" stroke="#505050" stroke-width="0.02">IGHV3-20</text>
<line x1="338.42" y1="102.50" x2="338.42" y2="105.60" stroke="#000" stroke-width="1.15" />
<text x="341.02" y="111.60" font-size="4.6" fill="#505050" text-anchor="end" font-weight="bold" font-style="normal" textLength="19.79" lengthAdjust="spacingAndGlyphs" transform="rotate(-45 341.02 111.60)" stroke="#505050" stroke-width="0.02">IGHV3-21</text>
<line x1="344.52" y1="102.50" x2="344.52" y2="105.60" stroke="#000" stroke-width="1.15" />
<text x="347.12" y="111.60" font-size="4.6" fill="#505050" text-anchor="end" font-weight="bold" font-style="normal" textLength="19.79" lengthAdjust="spacingAndGlyphs" transform="rotate(-45 347.12 111.60)" stroke="#505050" stroke-width="0.02">IGHV3-23</text>
<line x1="350.62" y1="102.50" x2="350.62" y2="105.60" stroke="#000" stroke-width="1.15" />
<text x="353.22" y="111.60" font-size="4.6" fill="#505050" text-anchor="end" font-weight="bold" font-style="normal" textLength="19.79" lengthAdjust="spacingAndGlyphs" transform="rotate(-45 353.22 111.60)" stroke="#505050" stroke-width="0.02">IGHV3-30</text>
<line x1="356.72" y1="102.50" x2="356.72" y2="105.60" stroke="#000" stroke-width="1.15" />
<text x="359.32" y="111.60" font-size="4.6" fill="#505050" text-anchor="end" font-weight="bold" font-style="normal" textLength="23.74" lengthAdjust="spacingAndGlyphs" transform="rotate(-45 359.32 111.60)" stroke="#505050" stroke-width="0.02">IGHV3-30-3</text>
<line x1="362.82" y1="102.50" x2="362.82" y2="105.60" stroke="#000" stroke-width="1.15" />
<text x="365.42" y="111.60" font-size="4.6" fill="#505050" text-anchor="end" font-weight="bold" font-style="normal" textLength="19.79" lengthAdjust="spacingAndGlyphs" transform="rotate(-45 365.42 111.60)" stroke="#505050" stroke-width="0.02">IGHV3-33</text>
<line x1="368.92" y1="102.50" x2="368.92" y2="105.60" stroke="#000" stroke-width="1.15" />
<text x="371.52" y="111.60" font-size="4.6" fill="#505050" text-anchor="end" font-weight="bold" font-style="normal" textLength="19.79" lengthAdjust="spacingAndGlyphs" transform="rotate(-45 371.52 111.60)" stroke="#505050" stroke-width="0.02">IGHV3-35</text>
<line x1="375.02" y1="102.50" x2="375.02" y2="105.60" stroke="#000" stroke-width="1.15" />
<text x="377.62" y="111.60" font-size="4.6" fill="#505050" text-anchor="end" font-weight="bold" font-style="normal" textLength="19.79" lengthAdjust="spacingAndGlyphs" transform="rotate(-45 377.62 111.60)" stroke="#505050" stroke-width="0.02">IGHV3-43</text>
<line x1="381.13" y1="102.50" x2="381.13" y2="105.60" stroke="#000" stroke-width="1.15" />
<text x="383.73" y="111.60" font-size="4.6" fill="#505050" text-anchor="end" font-weight="bold" font-style="normal" textLength="19.79" lengthAdjust="spacingAndGlyphs" transform="rotate(-45 383.73 111.60)" stroke="#505050" stroke-width="0.02">IGHV3-48</text>
<line x1="387.23" y1="102.50" x2="387.23" y2="105.60" stroke="#000" stroke-width="1.15" />
<text x="389.83" y="111.60" font-size="4.6" fill="#505050" text-anchor="end" font-weight="bold" font-style="normal" textLength="19.79" lengthAdjust="spacingAndGlyphs" transform="rotate(-45 389.83 111.60)" stroke="#505050" stroke-width="0.02">IGHV3-49</text>
<line x1="393.33" y1="102.50" x2="393.33" y2="105.60" stroke="#000" stroke-width="1.15" />
<text x="395.93" y="111.60" font-size="4.6" fill="#505050" text-anchor="end" font-weight="bold" font-style="normal" textLength="19.79" lengthAdjust="spacingAndGlyphs" transform="rotate(-45 395.93 111.60)" stroke="#505050" stroke-width="0.02">IGHV3-53</text>
<line x1="399.43" y1="102.50" x2="399.43" y2="105.60" stroke="#000" stroke-width="1.15" />
<text x="402.03" y="111.60" font-size="4.6" fill="#505050" text-anchor="end" font-weight="bold" font-style="normal" textLength="19.79" lengthAdjust="spacingAndGlyphs" transform="rotate(-45 402.03 111.60)" stroke="#505050" stroke-width="0.02">IGHV3-64</text>
<line x1="405.53" y1="102.50" x2="405.53" y2="105.60" stroke="#000" stroke-width="1.15" />
<text x="408.13" y="111.60" font-size="4.6" fill="#505050" text-anchor="end" font-weight="bold" font-style="normal" textLength="19.79" lengthAdjust="spacingAndGlyphs" transform="rotate(-45 408.13 111.60)" stroke="#505050" stroke-width="0.02">IGHV3-66</text>
<line x1="411.63" y1="102.50" x2="411.63" y2="105.60" stroke="#000" stroke-width="1.15" />
<text x="414.23" y="111.60" font-size="4.6" fill="#505050" text-anchor="end" font-weight="bold" font-style="normal" textLength="19.79" lengthAdjust="spacingAndGlyphs" transform="rotate(-45 414.23 111.60)" stroke="#505050" stroke-width="0.02">IGHV3-72</text>
<line x1="417.73" y1="102.50" x2="417.73" y2="105.60" stroke="#000" stroke-width="1.15" />
<text x="420.33" y="111.60" font-size="4.6" fill="#505050" text-anchor="end" font-weight="bold" font-style="normal" textLength="19.79" lengthAdjust="spacingAndGlyphs" transform="rotate(-45 420.33 111.60)" stroke="#505050" stroke-width="0.02">IGHV3-73</text>
<line x1="423.83" y1="102.50" x2="423.83" y2="105.60" stroke="#000" stroke-width="1.15" />
<text x="426.43" y="111.60" font-size="4.6" fill="#505050" text-anchor="end" font-weight="bold" font-style="normal" textLength="19.79" lengthAdjust="spacingAndGlyphs" transform="rotate(-45 426.43 111.60)" stroke="#505050" stroke-width="0.02">IGHV3-74</text>
<line x1="429.93" y1="102.50" x2="429.93" y2="105.60" stroke="#000" stroke-width="1.15" />
<text x="432.53" y="111.60" font-size="4.6" fill="#505050" text-anchor="end" font-weight="bold" font-style="normal" textLength="17.31" lengthAdjust="spacingAndGlyphs" transform="rotate(-45 432.53 111.60)" stroke="#505050" stroke-width="0.02">IGHV4-4</text>
<line x1="436.03" y1="102.50" x2="436.03" y2="105.60" stroke="#000" stroke-width="1.15" />
<text x="438.63" y="111.60" font-size="4.6" fill="#505050" text-anchor="end" font-weight="bold" font-style="normal" textLength="19.79" lengthAdjust="spacingAndGlyphs" transform="rotate(-45 438.63 111.60)" stroke="#505050" stroke-width="0.02">IGHV4-28</text>
<line x1="442.14" y1="102.50" x2="442.14" y2="105.60" stroke="#000" stroke-width="1.15" />
<text x="444.74" y="111.60" font-size="4.6" fill="#505050" text-anchor="end" font-weight="bold" font-style="normal" textLength="23.74" lengthAdjust="spacingAndGlyphs" transform="rotate(-45 444.74 111.60)" stroke="#505050" stroke-width="0.02">IGHV4-30-2</text>
<line x1="448.24" y1="102.50" x2="448.24" y2="105.60" stroke="#000" stroke-width="1.15" />
<text x="450.84" y="111.60" font-size="4.6" fill="#505050" text-anchor="end" font-weight="bold" font-style="normal" textLength="19.79" lengthAdjust="spacingAndGlyphs" transform="rotate(-45 450.84 111.60)" stroke="#505050" stroke-width="0.02">IGHV4-31</text>
<line x1="454.34" y1="102.50" x2="454.34" y2="105.60" stroke="#000" stroke-width="1.15" />
<text x="456.94" y="111.60" font-size="4.6" fill="#505050" text-anchor="end" font-weight="bold" font-style="normal" textLength="19.79" lengthAdjust="spacingAndGlyphs" transform="rotate(-45 456.94 111.60)" stroke="#505050" stroke-width="0.02">IGHV4-34</text>
<line x1="460.44" y1="102.50" x2="460.44" y2="105.60" stroke="#000" stroke-width="1.15" />
<text x="463.04" y="111.60" font-size="4.6" fill="#505050" text-anchor="end" font-weight="bold" font-style="normal" textLength="23.74" lengthAdjust="spacingAndGlyphs" transform="rotate(-45 463.04 111.60)" stroke="#505050" stroke-width="0.02">IGHV4-38-2</text>
<line x1="466.54" y1="102.50" x2="466.54" y2="105.60" stroke="#000" stroke-width="1.15" />
<text x="469.14" y="111.60" font-size="4.6" fill="#505050" text-anchor="end" font-weight="bold" font-style="normal" textLength="19.79" lengthAdjust="spacingAndGlyphs" transform="rotate(-45 469.14 111.60)" stroke="#505050" stroke-width="0.02">IGHV4-39</text>
<line x1="472.64" y1="102.50" x2="472.64" y2="105.60" stroke="#000" stroke-width="1.15" />
<text x="475.24" y="111.60" font-size="4.6" fill="#505050" text-anchor="end" font-weight="bold" font-style="normal" textLength="19.79" lengthAdjust="spacingAndGlyphs" transform="rotate(-45 475.24 111.60)" stroke="#505050" stroke-width="0.02">IGHV4-59</text>
<line x1="478.74" y1="102.50" x2="478.74" y2="105.60" stroke="#000" stroke-width="1.15" />
<text x="481.34" y="111.60" font-size="4.6" fill="#505050" text-anchor="end" font-weight="bold" font-style="normal" textLength="19.79" lengthAdjust="spacingAndGlyphs" transform="rotate(-45 481.34 111.60)" stroke="#505050" stroke-width="0.02">IGHV4-61</text>
<line x1="484.84" y1="102.50" x2="484.84" y2="105.60" stroke="#000" stroke-width="1.15" />
<text x="487.44" y="111.60" font-size="4.6" fill="#505050" text-anchor="end" font-weight="bold" font-style="normal" textLength="23.74" lengthAdjust="spacingAndGlyphs" transform="rotate(-45 487.44 111.60)" stroke="#505050" stroke-width="0.02">IGHV5-10-1</text>
<line x1="490.94" y1="102.50" x2="490.94" y2="105.60" stroke="#000" stroke-width="1.15" />
<text x="493.54" y="111.60" font-size="4.6" fill="#505050" text-anchor="end" font-weight="bold" font-style="normal" textLength="19.79" lengthAdjust="spacingAndGlyphs" transform="rotate(-45 493.54 111.60)" stroke="#505050" stroke-width="0.02">IGHV5-51</text>
<line x1="497.05" y1="102.50" x2="497.05" y2="105.60" stroke="#000" stroke-width="1.15" />
<text x="499.65" y="111.60" font-size="4.6" fill="#505050" text-anchor="end" font-weight="bold" font-style="normal" textLength="19.79" lengthAdjust="spacingAndGlyphs" transform="rotate(-45 499.65 111.60)" stroke="#505050" stroke-width="0.02">IGHV5-78</text>
<line x1="503.15" y1="102.50" x2="503.15" y2="105.60" stroke="#000" stroke-width="1.15" />
<text x="505.75" y="111.60" font-size="4.6" fill="#505050" text-anchor="end" font-weight="bold" font-style="normal" textLength="17.31" lengthAdjust="spacingAndGlyphs" transform="rotate(-45 505.75 111.60)" stroke="#505050" stroke-width="0.02">IGHV6-1</text>
<line x1="509.25" y1="102.50" x2="509.25" y2="105.60" stroke="#000" stroke-width="1.15" />
<text x="511.85" y="111.60" font-size="4.6" fill="#505050" text-anchor="end" font-weight="bold" font-style="normal" textLength="21.27" lengthAdjust="spacingAndGlyphs" transform="rotate(-45 511.85 111.60)" stroke="#505050" stroke-width="0.02">IGHV7-4-1</text>
<text x="365.70" y="138.50" font-size="6.3" fill="#1a1a1a" text-anchor="middle" font-weight="normal" font-style="normal" textLength="31.2" lengthAdjust="spacingAndGlyphs" stroke="#1a1a1a" stroke-width="0.1">IGHV gene</text>
<text x="195.80" y="161.80" font-size="12" fill="#000" text-anchor="start" font-weight="bold" font-style="normal" >E</text>
<line x1="218.60" y1="170.50" x2="218.60" y2="236.70" stroke="#000" stroke-width="1.15" />
<line x1="215.90" y1="236.20" x2="218.60" y2="236.20" stroke="#000" stroke-width="1.1" />
<text x="213.20" y="237.75" font-size="4.3" fill="#1a1a1a" text-anchor="end" font-weight="normal" font-style="normal" stroke="#1a1a1a" stroke-width="0.14">0</text>
<line x1="215.90" y1="222.67" x2="218.60" y2="222.67" stroke="#000" stroke-width="1.1" />
<text x="213.20" y="224.22" font-size="4.3" fill="#1a1a1a" text-anchor="end" font-weight="normal" font-style="normal" stroke="#1a1a1a" stroke-width="0.14">10</text>
<line x1="215.90" y1="209.14" x2="218.60" y2="209.14" stroke="#000" stroke-width="1.1" />
<text x="213.20" y="210.69" font-size="4.3" fill="#1a1a1a" text-anchor="end" font-weight="normal" font-style="normal" stroke="#1a1a1a" stroke-width="0.14">20</text>
<line x1="215.90" y1="195.61" x2="218.60" y2="195.61" stroke="#000" stroke-width="1.1" />
<text x="213.20" y="197.16" font-size="4.3" fill="#1a1a1a" text-anchor="end" font-weight="normal" font-style="normal" stroke="#1a1a1a" stroke-width="0.14">30</text>
<line x1="215.90" y1="184.45" x2="218.60" y2="184.45" stroke="#000" stroke-width="1.1" />
<text x="213.20" y="186.00" font-size="4.3" fill="#1a1a1a" text-anchor="end" font-weight="normal" font-style="normal" stroke="#1a1a1a" stroke-width="0.14">90</text>
<line x1="215.90" y1="178.90" x2="218.60" y2="178.90" stroke="#000" stroke-width="1.1" />
<line x1="215.90" y1="173.35" x2="218.60" y2="173.35" stroke="#000" stroke-width="1.1" />
<text x="213.20" y="174.90" font-size="4.3" fill="#1a1a1a" text-anchor="end" font-weight="normal" font-style="normal" stroke="#1a1a1a" stroke-width="0.14">110</text>
<path d="M216.9,190.6 L218.7,189.1 L220.4,190.6 L218.7,192.1 Z" fill="#fff" stroke="#444" stroke-width="0.45"/>
<text x="203.20" y="203.50" font-size="5.4" fill="#1a1a1a" text-anchor="middle" font-weight="normal" font-style="normal" textLength="55.2" lengthAdjust="spacingAndGlyphs" transform="rotate(-90 203.20 203.50)" stroke="#1a1a1a" stroke-width="0.1">% usage within subgroup</text>
<rect x="219.65" y="228.35" width="5.70" height="7.85" fill="#67a63d" />
<rect x="219.65" y="219.83" width="5.70" height="8.52" fill="#efc024" />
<rect x="219.65" y="212.12" width="5.70" height="7.71" fill="#24427c" />
<rect x="226.01" y="234.58" width="5.70" height="1.62" fill="#24427c" />
<rect x="232.37" y="235.52" width="5.70" height="0.68" fill="#67a63d" />
<rect x="232.37" y="219.15" width="5.70" height="16.37" fill="#efc024" />
<rect x="232.37" y="209.28" width="5.70" height="9.88" fill="#24427c" />
<rect x="234.57" y="206.48" width="1.30" height="1.50" rx="0.4" fill="#b0b0b0"/>
<rect x="238.73" y="232.82" width="5.70" height="3.38" fill="#67a63d" />
<rect x="238.73" y="229.84" width="5.70" height="2.98" fill="#efc024" />
<rect x="238.73" y="225.11" width="5.70" height="4.74" fill="#24427c" />
<rect x="245.09" y="233.36" width="5.70" height="2.84" fill="#67a63d" />
<rect x="245.09" y="230.92" width="5.70" height="2.44" fill="#24427c" />
<rect x="257.81" y="235.52" width="5.70" height="0.68" fill="#67a63d" />
<rect x="257.81" y="231.87" width="5.70" height="3.65" fill="#efc024" />
<rect x="257.81" y="229.71" width="5.70" height="2.16" fill="#24427c" />
<rect x="264.17" y="234.85" width="5.70" height="1.35" fill="#67a63d" />
<rect x="264.17" y="233.36" width="5.70" height="1.49" fill="#24427c" />
<rect x="270.53" y="235.52" width="5.70" height="0.68" fill="#67a63d" />
<rect x="270.53" y="233.90" width="5.70" height="1.62" fill="#efc024" />
<rect x="270.53" y="232.82" width="5.70" height="1.08" fill="#24427c" />
<rect x="276.89" y="219.15" width="5.70" height="17.05" fill="#67a63d" />
<rect x="276.89" y="214.15" width="5.70" height="5.01" fill="#efc024" />
<rect x="276.89" y="212.25" width="5.70" height="1.89" fill="#24427c" />
<rect x="277.54" y="210.15" width="4.40" height="0.80" rx="0.4" fill="#b0b0b0"/>
<rect x="283.25" y="218.48" width="5.70" height="17.72" fill="#67a63d" />
<rect x="283.25" y="210.22" width="5.70" height="8.25" fill="#efc024" />
<rect x="283.25" y="206.43" width="5.70" height="3.79" fill="#24427c" />
<rect x="284.30" y="204.33" width="3.60" height="0.80" rx="0.4" fill="#b0b0b0"/>
<rect x="289.61" y="234.85" width="5.70" height="1.35" fill="#67a63d" />
<rect x="289.61" y="233.36" width="5.70" height="1.49" fill="#24427c" />
<rect x="295.97" y="231.87" width="5.70" height="4.33" fill="#67a63d" />
<rect x="295.97" y="229.57" width="5.70" height="2.30" fill="#efc024" />
<rect x="295.97" y="224.43" width="5.70" height="5.14" fill="#24427c" />
<rect x="308.69" y="233.49" width="5.70" height="2.71" fill="#67a63d" />
<rect x="308.69" y="227.27" width="5.70" height="6.22" fill="#24427c" />
<rect x="321.41" y="232.14" width="5.70" height="4.06" fill="#67a63d" />
<rect x="321.41" y="226.59" width="5.70" height="5.55" fill="#efc024" />
<rect x="321.41" y="220.51" width="5.70" height="6.09" fill="#24427c" />
<rect x="327.77" y="229.16" width="5.70" height="7.04" fill="#67a63d" />
<rect x="327.77" y="220.37" width="5.70" height="8.79" fill="#efc024" />
<rect x="327.77" y="214.15" width="5.70" height="6.22" fill="#24427c" />
<rect x="334.13" y="222.94" width="5.70" height="13.26" fill="#67a63d" />
<rect x="334.13" y="211.58" width="5.70" height="11.37" fill="#efc024" />
<rect x="334.13" y="200.62" width="5.70" height="10.96" fill="#24427c" />
<rect x="340.49" y="227.54" width="5.70" height="8.66" fill="#67a63d" />
<rect x="340.49" y="219.15" width="5.70" height="8.39" fill="#efc024" />
<rect x="340.49" y="206.30" width="5.70" height="12.85" fill="#24427c" />
<rect x="346.85" y="235.79" width="5.70" height="0.41" fill="#67a63d" />
<rect x="353.21" y="235.25" width="5.70" height="0.95" fill="#67a63d" />
<rect x="359.57" y="235.79" width="5.70" height="0.41" fill="#67a63d" />
<rect x="365.93" y="235.12" width="5.70" height="1.08" fill="#67a63d" />
<rect x="365.93" y="233.09" width="5.70" height="2.03" fill="#efc024" />
<rect x="365.93" y="230.79" width="5.70" height="2.30" fill="#24427c" />
<rect x="372.29" y="234.85" width="5.70" height="1.35" fill="#67a63d" />
<rect x="372.29" y="232.95" width="5.70" height="1.89" fill="#24427c" />
<rect x="378.65" y="233.63" width="5.70" height="2.57" fill="#67a63d" />
<rect x="378.65" y="230.52" width="5.70" height="3.11" fill="#efc024" />
<rect x="378.65" y="227.81" width="5.70" height="2.71" fill="#24427c" />
<rect x="385.01" y="233.63" width="5.70" height="2.57" fill="#67a63d" />
<rect x="385.01" y="230.52" width="5.70" height="3.11" fill="#efc024" />
<rect x="385.01" y="228.08" width="5.70" height="2.44" fill="#24427c" />
<rect x="391.37" y="234.44" width="5.70" height="1.76" fill="#67a63d" />
<rect x="391.37" y="225.24" width="5.70" height="9.20" fill="#efc024" />
<rect x="391.37" y="222.26" width="5.70" height="2.98" fill="#24427c" />
<rect x="397.73" y="233.63" width="5.70" height="2.57" fill="#24427c" />
<rect x="404.09" y="232.68" width="5.70" height="3.52" fill="#67a63d" />
<rect x="404.09" y="227.00" width="5.70" height="5.68" fill="#efc024" />
<rect x="404.09" y="220.51" width="5.70" height="6.49" fill="#24427c" />
<rect x="416.81" y="233.36" width="5.70" height="2.84" fill="#efc024" />
<rect x="416.81" y="230.92" width="5.70" height="2.44" fill="#24427c" />
<rect x="423.17" y="234.85" width="5.70" height="1.35" fill="#67a63d" />
<rect x="423.17" y="229.84" width="5.70" height="5.01" fill="#efc024" />
<rect x="423.17" y="227.54" width="5.70" height="2.30" fill="#24427c" />
<rect x="429.53" y="235.52" width="5.70" height="0.68" fill="#67a63d" />
<rect x="435.89" y="235.52" width="5.70" height="0.68" fill="#67a63d" />
<rect x="435.89" y="233.49" width="5.70" height="2.03" fill="#efc024" />
<rect x="435.89" y="232.82" width="5.70" height="0.68" fill="#24427c" />
<rect x="442.25" y="235.52" width="5.70" height="0.68" fill="#67a63d" />
<rect x="448.61" y="230.65" width="5.70" height="5.55" fill="#67a63d" />
<rect x="448.61" y="226.19" width="5.70" height="4.46" fill="#24427c" />
<rect x="448.61" y="174.20" width="5.70" height="51.99" fill="#a3601f" />
<path d="M447.4,189.8 L456.0,186.7 L456.0,188.2 L447.4,191.3 Z" fill="#fff" stroke="#6a6a6a" stroke-width="0.5"/>
<rect x="449.26" y="172.10" width="4.40" height="0.80" rx="0.4" fill="#b0b0b0"/>
<rect x="454.97" y="235.79" width="5.70" height="0.41" fill="#67a63d" />
<rect x="454.97" y="215.91" width="5.70" height="19.89" fill="#efc024" />
<rect x="454.97" y="213.74" width="5.70" height="2.16" fill="#24427c" />
<rect x="455.62" y="211.64" width="4.40" height="0.80" rx="0.4" fill="#b0b0b0"/>
<rect x="461.33" y="235.79" width="5.70" height="0.41" fill="#67a63d" />
<rect x="467.69" y="234.85" width="5.70" height="1.35" fill="#67a63d" />
<rect x="474.05" y="235.66" width="5.70" height="0.54" fill="#24427c" />
<rect x="480.41" y="234.85" width="5.70" height="1.35" fill="#67a63d" />
<rect x="486.77" y="235.52" width="5.70" height="0.68" fill="#24427c" />
<rect x="493.13" y="232.55" width="5.70" height="3.65" fill="#24427c" />
<rect x="499.49" y="235.25" width="5.70" height="0.95" fill="#24427c" />
<rect x="505.85" y="234.44" width="5.70" height="1.76" fill="#24427c" />
<line x1="218.10" y1="236.20" x2="512.80" y2="236.20" stroke="#000" stroke-width="1.15" />
<line x1="222.50" y1="236.20" x2="222.50" y2="239.40" stroke="#000" stroke-width="1.15" />
<text x="225.10" y="245.20" font-size="4.6" fill="#333" text-anchor="end" font-weight="normal" font-style="normal" textLength="17.07" lengthAdjust="spacingAndGlyphs" transform="rotate(-45 225.10 245.20)" stroke="#333" stroke-width="0.1">IGKV1-5</text>
<line x1="228.86" y1="236.20" x2="228.86" y2="239.40" stroke="#000" stroke-width="1.15" />
<text x="231.46" y="245.20" font-size="4.6" fill="#333" text-anchor="end" font-weight="normal" font-style="normal" textLength="17.07" lengthAdjust="spacingAndGlyphs" transform="rotate(-45 231.46 245.20)" stroke="#333" stroke-width="0.1">IGKV1-6</text>
<line x1="235.22" y1="236.20" x2="235.22" y2="239.40" stroke="#000" stroke-width="1.15" />
<text x="237.82" y="245.20" font-size="4.6" fill="#333" text-anchor="end" font-weight="normal" font-style="normal" textLength="17.07" lengthAdjust="spacingAndGlyphs" transform="rotate(-45 237.82 245.20)" stroke="#333" stroke-width="0.1">IGKV1-8</text>
<line x1="241.58" y1="236.20" x2="241.58" y2="239.40" stroke="#000" stroke-width="1.15" />
<text x="244.18" y="245.20" font-size="4.6" fill="#333" text-anchor="end" font-weight="normal" font-style="normal" textLength="17.07" lengthAdjust="spacingAndGlyphs" transform="rotate(-45 244.18 245.20)" stroke="#333" stroke-width="0.1">IGKV1-9</text>
<line x1="247.94" y1="236.20" x2="247.94" y2="239.40" stroke="#000" stroke-width="1.15" />
<text x="250.54" y="245.20" font-size="4.6" fill="#333" text-anchor="end" font-weight="normal" font-style="normal" textLength="19.54" lengthAdjust="spacingAndGlyphs" transform="rotate(-45 250.54 245.20)" stroke="#333" stroke-width="0.1">IGKV1-12</text>
<line x1="254.30" y1="236.20" x2="254.30" y2="239.40" stroke="#000" stroke-width="1.15" />
<text x="256.90" y="245.20" font-size="4.6" fill="#333" text-anchor="end" font-weight="normal" font-style="normal" textLength="19.54" lengthAdjust="spacingAndGlyphs" transform="rotate(-45 256.90 245.20)" stroke="#333" stroke-width="0.1">IGKV1-13</text>
<line x1="260.66" y1="236.20" x2="260.66" y2="239.40" stroke="#000" stroke-width="1.15" />
<text x="263.26" y="245.20" font-size="4.6" fill="#333" text-anchor="end" font-weight="normal" font-style="normal" textLength="19.54" lengthAdjust="spacingAndGlyphs" transform="rotate(-45 263.26 245.20)" stroke="#333" stroke-width="0.1">IGKV1-16</text>
<line x1="267.02" y1="236.20" x2="267.02" y2="239.40" stroke="#000" stroke-width="1.15" />
<text x="269.62" y="245.20" font-size="4.6" fill="#333" text-anchor="end" font-weight="normal" font-style="normal" textLength="19.54" lengthAdjust="spacingAndGlyphs" transform="rotate(-45 269.62 245.20)" stroke="#333" stroke-width="0.1">IGKV1-17</text>
<line x1="273.38" y1="236.20" x2="273.38" y2="239.40" stroke="#000" stroke-width="1.15" />
<text x="275.98" y="245.20" font-size="4.6" fill="#333" text-anchor="end" font-weight="normal" font-style="normal" textLength="19.54" lengthAdjust="spacingAndGlyphs" transform="rotate(-45 275.98 245.20)" stroke="#333" stroke-width="0.1">IGKV1-27</text>
<line x1="279.74" y1="236.20" x2="279.74" y2="239.40" stroke="#000" stroke-width="1.15" />
<text x="282.34" y="245.20" font-size="4.6" fill="#333" text-anchor="end" font-weight="normal" font-style="normal" textLength="19.54" lengthAdjust="spacingAndGlyphs" transform="rotate(-45 282.34 245.20)" stroke="#333" stroke-width="0.1">IGKV1-33</text>
<line x1="286.10" y1="236.20" x2="286.10" y2="239.40" stroke="#000" stroke-width="1.15" />
<text x="288.70" y="245.20" font-size="4.6" fill="#333" text-anchor="end" font-weight="normal" font-style="normal" textLength="19.54" lengthAdjust="spacingAndGlyphs" transform="rotate(-45 288.70 245.20)" stroke="#333" stroke-width="0.1">IGKV1-39</text>
<line x1="292.46" y1="236.20" x2="292.46" y2="239.40" stroke="#000" stroke-width="1.15" />
<text x="295.06" y="245.20" font-size="4.6" fill="#333" text-anchor="end" font-weight="normal" font-style="normal" textLength="19.54" lengthAdjust="spacingAndGlyphs" transform="rotate(-45 295.06 245.20)" stroke="#333" stroke-width="0.1">IGKV2-24</text>
<line x1="298.82" y1="236.20" x2="298.82" y2="239.40" stroke="#000" stroke-width="1.15" />
<text x="301.42" y="245.20" font-size="4.6" fill="#333" text-anchor="end" font-weight="normal" font-style="normal" textLength="19.54" lengthAdjust="spacingAndGlyphs" transform="rotate(-45 301.42 245.20)" stroke="#333" stroke-width="0.1">IGKV2-28</text>
<line x1="305.18" y1="236.20" x2="305.18" y2="239.40" stroke="#000" stroke-width="1.15" />
<text x="307.78" y="245.20" font-size="4.6" fill="#333" text-anchor="end" font-weight="normal" font-style="normal" textLength="19.54" lengthAdjust="spacingAndGlyphs" transform="rotate(-45 307.78 245.20)" stroke="#333" stroke-width="0.1">IGKV2-29</text>
<line x1="311.54" y1="236.20" x2="311.54" y2="239.40" stroke="#000" stroke-width="1.15" />
<text x="314.14" y="245.20" font-size="4.6" fill="#333" text-anchor="end" font-weight="normal" font-style="normal" textLength="19.54" lengthAdjust="spacingAndGlyphs" transform="rotate(-45 314.14 245.20)" stroke="#333" stroke-width="0.1">IGKV2-30</text>
<line x1="317.90" y1="236.20" x2="317.90" y2="239.40" stroke="#000" stroke-width="1.15" />
<text x="320.50" y="245.20" font-size="4.6" fill="#333" text-anchor="end" font-weight="normal" font-style="normal" textLength="19.21" lengthAdjust="spacingAndGlyphs" transform="rotate(-45 320.50 245.20)" stroke="#333" stroke-width="0.1">IGKV3-11</text>
<line x1="324.26" y1="236.20" x2="324.26" y2="239.40" stroke="#000" stroke-width="1.15" />
<text x="326.86" y="245.20" font-size="4.6" fill="#333" text-anchor="end" font-weight="normal" font-style="normal" textLength="19.54" lengthAdjust="spacingAndGlyphs" transform="rotate(-45 326.86 245.20)" stroke="#333" stroke-width="0.1">IGKV3-15</text>
<line x1="330.62" y1="236.20" x2="330.62" y2="239.40" stroke="#000" stroke-width="1.15" />
<text x="333.22" y="245.20" font-size="4.6" fill="#333" text-anchor="end" font-weight="normal" font-style="normal" textLength="19.54" lengthAdjust="spacingAndGlyphs" transform="rotate(-45 333.22 245.20)" stroke="#333" stroke-width="0.1">IGKV3-20</text>
<line x1="336.98" y1="236.20" x2="336.98" y2="239.40" stroke="#000" stroke-width="1.15" />
<text x="339.58" y="245.20" font-size="4.6" fill="#333" text-anchor="end" font-weight="normal" font-style="normal" textLength="17.07" lengthAdjust="spacingAndGlyphs" transform="rotate(-45 339.58 245.20)" stroke="#333" stroke-width="0.1">IGKV4-1</text>
<line x1="343.34" y1="236.20" x2="343.34" y2="239.40" stroke="#000" stroke-width="1.15" />
<text x="345.94" y="245.20" font-size="4.6" fill="#333" text-anchor="end" font-weight="normal" font-style="normal" textLength="17.07" lengthAdjust="spacingAndGlyphs" transform="rotate(-45 345.94 245.20)" stroke="#333" stroke-width="0.1">IGKV5-2</text>
<line x1="349.70" y1="236.20" x2="349.70" y2="239.40" stroke="#000" stroke-width="1.15" />
<text x="352.30" y="245.20" font-size="4.6" fill="#333" text-anchor="end" font-weight="normal" font-style="normal" textLength="19.54" lengthAdjust="spacingAndGlyphs" transform="rotate(-45 352.30 245.20)" stroke="#333" stroke-width="0.1">IGKV6-21</text>
<line x1="356.06" y1="236.20" x2="356.06" y2="239.40" stroke="#000" stroke-width="1.15" />
<text x="358.66" y="245.20" font-size="4.6" fill="#333" text-anchor="end" font-weight="normal" font-style="normal" textLength="18.72" lengthAdjust="spacingAndGlyphs" transform="rotate(-45 358.66 245.20)" stroke="#333" stroke-width="0.1">IGLV1-36</text>
<line x1="362.42" y1="236.20" x2="362.42" y2="239.40" stroke="#000" stroke-width="1.15" />
<text x="365.02" y="245.20" font-size="4.6" fill="#333" text-anchor="end" font-weight="normal" font-style="normal" textLength="18.72" lengthAdjust="spacingAndGlyphs" transform="rotate(-45 365.02 245.20)" stroke="#333" stroke-width="0.1">IGLV1-40</text>
<line x1="368.78" y1="236.20" x2="368.78" y2="239.40" stroke="#000" stroke-width="1.15" />
<text x="371.38" y="245.20" font-size="4.6" fill="#333" text-anchor="end" font-weight="normal" font-style="normal" textLength="18.72" lengthAdjust="spacingAndGlyphs" transform="rotate(-45 371.38 245.20)" stroke="#333" stroke-width="0.1">IGLV1-44</text>
<line x1="375.14" y1="236.20" x2="375.14" y2="239.40" stroke="#000" stroke-width="1.15" />
<text x="377.74" y="245.20" font-size="4.6" fill="#333" text-anchor="end" font-weight="normal" font-style="normal" textLength="18.72" lengthAdjust="spacingAndGlyphs" transform="rotate(-45 377.74 245.20)" stroke="#333" stroke-width="0.1">IGLV1-47</text>
<line x1="381.50" y1="236.20" x2="381.50" y2="239.40" stroke="#000" stroke-width="1.15" />
<text x="384.10" y="245.20" font-size="4.6" fill="#333" text-anchor="end" font-weight="normal" font-style="normal" textLength="18.72" lengthAdjust="spacingAndGlyphs" transform="rotate(-45 384.10 245.20)" stroke="#333" stroke-width="0.1">IGLV1-51</text>
<line x1="387.86" y1="236.20" x2="387.86" y2="239.40" stroke="#000" stroke-width="1.15" />
<text x="390.46" y="245.20" font-size="4.6" fill="#333" text-anchor="end" font-weight="normal" font-style="normal" textLength="16.24" lengthAdjust="spacingAndGlyphs" transform="rotate(-45 390.46 245.20)" stroke="#333" stroke-width="0.1">IGLV2-8</text>
<line x1="394.22" y1="236.20" x2="394.22" y2="239.40" stroke="#000" stroke-width="1.15" />
<text x="396.82" y="245.20" font-size="4.6" fill="#333" text-anchor="end" font-weight="normal" font-style="normal" textLength="18.39" lengthAdjust="spacingAndGlyphs" transform="rotate(-45 396.82 245.20)" stroke="#333" stroke-width="0.1">IGLV2-11</text>
<line x1="400.58" y1="236.20" x2="400.58" y2="239.40" stroke="#000" stroke-width="1.15" />
<text x="403.18" y="245.20" font-size="4.6" fill="#333" text-anchor="end" font-weight="normal" font-style="normal" textLength="18.72" lengthAdjust="spacingAndGlyphs" transform="rotate(-45 403.18 245.20)" stroke="#333" stroke-width="0.1">IGLV2-14</text>
<line x1="406.94" y1="236.20" x2="406.94" y2="239.40" stroke="#000" stroke-width="1.15" />
<text x="409.54" y="245.20" font-size="4.6" fill="#333" text-anchor="end" font-weight="normal" font-style="normal" textLength="18.72" lengthAdjust="spacingAndGlyphs" transform="rotate(-45 409.54 245.20)" stroke="#333" stroke-width="0.1">IGLV2-18</text>
<line x1="413.30" y1="236.20" x2="413.30" y2="239.40" stroke="#000" stroke-width="1.15" />
<text x="415.90" y="245.20" font-size="4.6" fill="#333" text-anchor="end" font-weight="normal" font-style="normal" textLength="18.72" lengthAdjust="spacingAndGlyphs" transform="rotate(-45 415.90 245.20)" stroke="#333" stroke-width="0.1">IGLV2-23</text>
<line x1="419.66" y1="236.20" x2="419.66" y2="239.40" stroke="#000" stroke-width="1.15" />
<text x="422.26" y="245.20" font-size="4.6" fill="#333" text-anchor="end" font-weight="normal" font-style="normal" textLength="16.24" lengthAdjust="spacingAndGlyphs" transform="rotate(-45 422.26 245.20)" stroke="#333" stroke-width="0.1">IGLV3-1</text>
<line x1="426.02" y1="236.20" x2="426.02" y2="239.40" stroke="#000" stroke-width="1.15" />
<text x="428.62" y="245.20" font-size="4.6" fill="#333" text-anchor="end" font-weight="normal" font-style="normal" textLength="16.24" lengthAdjust="spacingAndGlyphs" transform="rotate(-45 428.62 245.20)" stroke="#333" stroke-width="0.1">IGLV3-9</text>
<line x1="432.38" y1="236.20" x2="432.38" y2="239.40" stroke="#000" stroke-width="1.15" />
<text x="434.98" y="245.20" font-size="4.6" fill="#333" text-anchor="end" font-weight="normal" font-style="normal" textLength="18.72" lengthAdjust="spacingAndGlyphs" transform="rotate(-45 434.98 245.20)" stroke="#333" stroke-width="0.1">IGLV3-10</text>
<line x1="438.74" y1="236.20" x2="438.74" y2="239.40" stroke="#000" stroke-width="1.15" />
<text x="441.34" y="245.20" font-size="4.6" fill="#333" text-anchor="end" font-weight="normal" font-style="normal" textLength="18.72" lengthAdjust="spacingAndGlyphs" transform="rotate(-45 441.34 245.20)" stroke="#333" stroke-width="0.1">IGLV3-19</text>
<line x1="445.10" y1="236.20" x2="445.10" y2="239.40" stroke="#000" stroke-width="1.15" />
<text x="447.70" y="245.20" font-size="4.6" fill="#333" text-anchor="end" font-weight="normal" font-style="normal" textLength="18.72" lengthAdjust="spacingAndGlyphs" transform="rotate(-45 447.70 245.20)" stroke="#333" stroke-width="0.1">IGLV3-21</text>
<line x1="451.46" y1="236.20" x2="451.46" y2="239.40" stroke="#000" stroke-width="1.15" />
<text x="454.06" y="245.20" font-size="4.6" fill="#333" text-anchor="end" font-weight="normal" font-style="normal" textLength="18.72" lengthAdjust="spacingAndGlyphs" transform="rotate(-45 454.06 245.20)" stroke="#333" stroke-width="0.1">IGLV3-21</text>
<line x1="457.82" y1="236.20" x2="457.82" y2="239.40" stroke="#000" stroke-width="1.15" />
<text x="460.42" y="245.20" font-size="4.6" fill="#333" text-anchor="end" font-weight="normal" font-style="normal" textLength="18.72" lengthAdjust="spacingAndGlyphs" transform="rotate(-45 460.42 245.20)" stroke="#333" stroke-width="0.1">IGLV3-25</text>
<line x1="464.18" y1="236.20" x2="464.18" y2="239.40" stroke="#000" stroke-width="1.15" />
<text x="466.78" y="245.20" font-size="4.6" fill="#333" text-anchor="end" font-weight="normal" font-style="normal" textLength="18.72" lengthAdjust="spacingAndGlyphs" transform="rotate(-45 466.78 245.20)" stroke="#333" stroke-width="0.1">IGLV3-27</text>
<line x1="470.54" y1="236.20" x2="470.54" y2="239.40" stroke="#000" stroke-width="1.15" />
<text x="473.14" y="245.20" font-size="4.6" fill="#333" text-anchor="end" font-weight="normal" font-style="normal" textLength="18.72" lengthAdjust="spacingAndGlyphs" transform="rotate(-45 473.14 245.20)" stroke="#333" stroke-width="0.1">IGLV4-69</text>
<line x1="476.90" y1="236.20" x2="476.90" y2="239.40" stroke="#000" stroke-width="1.15" />
<text x="479.50" y="245.20" font-size="4.6" fill="#333" text-anchor="end" font-weight="normal" font-style="normal" textLength="18.72" lengthAdjust="spacingAndGlyphs" transform="rotate(-45 479.50 245.20)" stroke="#333" stroke-width="0.1">IGLV5-45</text>
<line x1="483.26" y1="236.20" x2="483.26" y2="239.40" stroke="#000" stroke-width="1.15" />
<text x="485.86" y="245.20" font-size="4.6" fill="#333" text-anchor="end" font-weight="normal" font-style="normal" textLength="18.72" lengthAdjust="spacingAndGlyphs" transform="rotate(-45 485.86 245.20)" stroke="#333" stroke-width="0.1">IGLV6-57</text>
<line x1="489.62" y1="236.20" x2="489.62" y2="239.40" stroke="#000" stroke-width="1.15" />
<text x="492.22" y="245.20" font-size="4.6" fill="#333" text-anchor="end" font-weight="normal" font-style="normal" textLength="18.72" lengthAdjust="spacingAndGlyphs" transform="rotate(-45 492.22 245.20)" stroke="#333" stroke-width="0.1">IGLV7-43</text>
<line x1="495.98" y1="236.20" x2="495.98" y2="239.40" stroke="#000" stroke-width="1.15" />
<text x="498.58" y="245.20" font-size="4.6" fill="#333" text-anchor="end" font-weight="normal" font-style="normal" textLength="18.72" lengthAdjust="spacingAndGlyphs" transform="rotate(-45 498.58 245.20)" stroke="#333" stroke-width="0.1">IGLV7-46</text>
<line x1="502.34" y1="236.20" x2="502.34" y2="239.40" stroke="#000" stroke-width="1.15" />
<text x="504.94" y="245.20" font-size="4.6" fill="#333" text-anchor="end" font-weight="normal" font-style="normal" textLength="18.72" lengthAdjust="spacingAndGlyphs" transform="rotate(-45 504.94 245.20)" stroke="#333" stroke-width="0.1">IGLV8-61</text>
<line x1="508.70" y1="236.20" x2="508.70" y2="239.40" stroke="#000" stroke-width="1.15" />
<text x="511.30" y="245.20" font-size="4.6" fill="#333" text-anchor="end" font-weight="normal" font-style="normal" textLength="21.19" lengthAdjust="spacingAndGlyphs" transform="rotate(-45 511.30 245.20)" stroke="#333" stroke-width="0.1">IGLV10-54</text>
<text x="365.90" y="269.80" font-size="6.3" fill="#1a1a1a" text-anchor="middle" font-weight="normal" font-style="normal" textLength="30" lengthAdjust="spacingAndGlyphs" stroke="#1a1a1a" stroke-width="0.1">IG(K/L)V gene</text>
<text x="8.90" y="162.00" font-size="12" fill="#000" text-anchor="start" font-weight="bold" font-style="normal" >B</text>
<line x1="30.30" y1="170.30" x2="30.30" y2="236.80" stroke="#000" stroke-width="1.15" />
<line x1="27.20" y1="236.30" x2="30.30" y2="236.30" stroke="#000" stroke-width="1.1" />
<text x="25.00" y="237.85" font-size="4.3" fill="#1a1a1a" text-anchor="end" font-weight="normal" font-style="normal" stroke="#1a1a1a" stroke-width="0.14">0</text>
<line x1="27.20" y1="217.50" x2="30.30" y2="217.50" stroke="#000" stroke-width="1.1" />
<text x="25.00" y="219.05" font-size="4.3" fill="#1a1a1a" text-anchor="end" font-weight="normal" font-style="normal" stroke="#1a1a1a" stroke-width="0.14">5</text>
<line x1="27.20" y1="198.70" x2="30.30" y2="198.70" stroke="#000" stroke-width="1.1" />
<text x="25.00" y="200.25" font-size="4.3" fill="#1a1a1a" text-anchor="end" font-weight="normal" font-style="normal" stroke="#1a1a1a" stroke-width="0.14">10</text>
<line x1="27.20" y1="186.20" x2="30.30" y2="186.20" stroke="#000" stroke-width="1.1" />
<text x="25.00" y="187.75" font-size="4.3" fill="#1a1a1a" text-anchor="end" font-weight="normal" font-style="normal" stroke="#1a1a1a" stroke-width="0.14">30</text>
<path d="M28.5,192.4 L30.2,190.9 L31.9,192.4 L30.2,193.9 Z" fill="#fff" stroke="#444" stroke-width="0.45"/>
<text x="17.00" y="202.00" font-size="5.2" fill="#1a1a1a" text-anchor="middle" font-weight="normal" font-style="normal" textLength="60.2" lengthAdjust="spacingAndGlyphs" transform="rotate(-90 17.00 202.00)" stroke="#1a1a1a" stroke-width="0.1">% of cases within subgroup</text>
<rect x="31.95" y="215.24" width="6.10" height="21.06" fill="#67a63d" />
<rect x="33.20" y="213.14" width="3.60" height="0.80" rx="0.4" fill="#b0b0b0"/>
<rect x="38.60" y="234.42" width="6.10" height="1.88" fill="#24427c" />
<rect x="38.60" y="174.10" width="6.10" height="60.32" fill="#a3601f" />
<path d="M37.2,192.45 L45.9,189.05 L45.9,190.55 L37.2,193.95 Z" fill="#fff" stroke="#6a6a6a" stroke-width="0.5"/>
<rect x="39.45" y="172.00" width="4.40" height="0.80" rx="0.4" fill="#b0b0b0"/>
<rect x="45.25" y="232.54" width="6.10" height="3.76" fill="#67a63d" />
<rect x="51.90" y="228.03" width="6.10" height="8.27" fill="#24427c" />
<rect x="58.55" y="230.66" width="6.10" height="5.64" fill="#67a63d" />
<rect x="65.20" y="228.78" width="6.10" height="7.52" fill="#67a63d" />
<rect x="71.85" y="234.80" width="6.10" height="1.50" fill="#67a63d" />
<rect x="78.50" y="232.54" width="6.10" height="3.76" fill="#67a63d" />
<rect x="85.15" y="234.80" width="6.10" height="1.50" fill="#67a63d" />
<rect x="91.80" y="235.17" width="6.10" height="1.13" fill="#24427c" />
<rect x="98.45" y="231.79" width="6.10" height="4.51" fill="#24427c" />
<rect x="105.10" y="234.80" width="6.10" height="1.50" fill="#67a63d" />
<rect x="111.75" y="234.80" width="6.10" height="1.50" fill="#67a63d" />
<rect x="118.40" y="234.80" width="6.10" height="1.50" fill="#67a63d" />
<rect x="125.05" y="235.17" width="6.10" height="1.13" fill="#24427c" />
<rect x="131.70" y="228.78" width="6.10" height="7.52" fill="#67a63d" />
<rect x="138.35" y="235.17" width="6.10" height="1.13" fill="#24427c" />
<rect x="145.00" y="230.66" width="6.10" height="5.64" fill="#67a63d" />
<line x1="29.80" y1="236.30" x2="151.90" y2="236.30" stroke="#000" stroke-width="1.15" />
<line x1="35.00" y1="236.30" x2="35.00" y2="239.40" stroke="#000" stroke-width="1.15" />
<text x="37.50" y="245.60" font-size="4.1" fill="#3a3a3a" text-anchor="end" font-weight="normal" font-style="normal" transform="rotate(-45 37.50 245.60)" stroke="#505050" stroke-width="0.02">CLL#1</text>
<line x1="41.65" y1="236.30" x2="41.65" y2="239.40" stroke="#000" stroke-width="1.15" />
<text x="44.15" y="245.60" font-size="4.1" fill="#3a3a3a" text-anchor="end" font-weight="normal" font-style="normal" transform="rotate(-45 44.15 245.60)" stroke="#505050" stroke-width="0.02">CLL#2</text>
<line x1="48.30" y1="236.30" x2="48.30" y2="239.40" stroke="#000" stroke-width="1.15" />
<text x="50.80" y="245.60" font-size="4.1" fill="#3a3a3a" text-anchor="end" font-weight="normal" font-style="normal" transform="rotate(-45 50.80 245.60)" stroke="#505050" stroke-width="0.02">CLL#3</text>
<line x1="54.95" y1="236.30" x2="54.95" y2="239.40" stroke="#000" stroke-width="1.15" />
<text x="57.45" y="245.60" font-size="4.1" fill="#3a3a3a" text-anchor="end" font-weight="normal" font-style="normal" transform="rotate(-45 57.45 245.60)" stroke="#505050" stroke-width="0.02">CLL#4</text>
<line x1="61.60" y1="236.30" x2="61.60" y2="239.40" stroke="#000" stroke-width="1.15" />
<text x="64.10" y="245.60" font-size="4.1" fill="#3a3a3a" text-anchor="end" font-weight="normal" font-style="normal" transform="rotate(-45 64.10 245.60)" stroke="#505050" stroke-width="0.02">CLL#5</text>
<line x1="68.25" y1="236.30" x2="68.25" y2="239.40" stroke="#000" stroke-width="1.15" />
<text x="70.75" y="245.60" font-size="4.1" fill="#3a3a3a" text-anchor="end" font-weight="normal" font-style="normal" transform="rotate(-45 70.75 245.60)" stroke="#505050" stroke-width="0.02">CLL#6</text>
<line x1="74.90" y1="236.30" x2="74.90" y2="239.40" stroke="#000" stroke-width="1.15" />
<text x="77.40" y="245.60" font-size="4.1" fill="#3a3a3a" text-anchor="end" font-weight="normal" font-style="normal" transform="rotate(-45 77.40 245.60)" stroke="#505050" stroke-width="0.02">CLL#7H</text>
<line x1="81.55" y1="236.30" x2="81.55" y2="239.40" stroke="#000" stroke-width="1.15" />
<text x="84.05" y="245.60" font-size="4.1" fill="#3a3a3a" text-anchor="end" font-weight="normal" font-style="normal" transform="rotate(-45 84.05 245.60)" stroke="#505050" stroke-width="0.02">CLL#8</text>
<line x1="88.20" y1="236.30" x2="88.20" y2="239.40" stroke="#000" stroke-width="1.15" />
<text x="90.70" y="245.60" font-size="4.1" fill="#3a3a3a" text-anchor="end" font-weight="normal" font-style="normal" transform="rotate(-45 90.70 245.60)" stroke="#505050" stroke-width="0.02">CLL#12</text>
<line x1="94.85" y1="236.30" x2="94.85" y2="239.40" stroke="#000" stroke-width="1.15" />
<text x="97.35" y="245.60" font-size="4.1" fill="#3a3a3a" text-anchor="end" font-weight="normal" font-style="normal" transform="rotate(-45 97.35 245.60)" stroke="#505050" stroke-width="0.02">CLL#14</text>
<line x1="101.50" y1="236.30" x2="101.50" y2="239.40" stroke="#000" stroke-width="1.15" />
<text x="104.00" y="245.60" font-size="4.1" fill="#3a3a3a" text-anchor="end" font-weight="normal" font-style="normal" transform="rotate(-45 104.00 245.60)" stroke="#505050" stroke-width="0.02">CLL#16</text>
<line x1="108.15" y1="236.30" x2="108.15" y2="239.40" stroke="#000" stroke-width="1.15" />
<text x="110.65" y="245.60" font-size="4.1" fill="#3a3a3a" text-anchor="end" font-weight="normal" font-style="normal" transform="rotate(-45 110.65 245.60)" stroke="#505050" stroke-width="0.02">CLL#28A</text>
<line x1="114.80" y1="236.30" x2="114.80" y2="239.40" stroke="#000" stroke-width="1.15" />
<text x="117.30" y="245.60" font-size="4.1" fill="#3a3a3a" text-anchor="end" font-weight="normal" font-style="normal" transform="rotate(-45 117.30 245.60)" stroke="#505050" stroke-width="0.02">CLL#59</text>
<line x1="121.45" y1="236.30" x2="121.45" y2="239.40" stroke="#000" stroke-width="1.15" />
<text x="123.95" y="245.60" font-size="4.1" fill="#3a3a3a" text-anchor="end" font-weight="normal" font-style="normal" transform="rotate(-45 123.95 245.60)" stroke="#505050" stroke-width="0.02">CLL#64B</text>
<line x1="128.10" y1="236.30" x2="128.10" y2="239.40" stroke="#000" stroke-width="1.15" />
<text x="130.60" y="245.60" font-size="4.1" fill="#3a3a3a" text-anchor="end" font-weight="normal" font-style="normal" transform="rotate(-45 130.60 245.60)" stroke="#505050" stroke-width="0.02">CLL#77</text>
<line x1="134.75" y1="236.30" x2="134.75" y2="239.40" stroke="#000" stroke-width="1.15" />
<text x="137.25" y="245.60" font-size="4.1" fill="#3a3a3a" text-anchor="end" font-weight="normal" font-style="normal" transform="rotate(-45 137.25 245.60)" stroke="#505050" stroke-width="0.02">CLL#99</text>
<line x1="141.40" y1="236.30" x2="141.40" y2="239.40" stroke="#000" stroke-width="1.15" />
<text x="143.90" y="245.60" font-size="4.1" fill="#3a3a3a" text-anchor="end" font-weight="normal" font-style="normal" transform="rotate(-45 143.90 245.60)" stroke="#505050" stroke-width="0.02">CLL#201</text>
<line x1="148.05" y1="236.30" x2="148.05" y2="239.40" stroke="#000" stroke-width="1.15" />
<text x="150.55" y="245.60" font-size="4.1" fill="#3a3a3a" text-anchor="end" font-weight="normal" font-style="normal" transform="rotate(-45 150.55 245.60)" stroke="#505050" stroke-width="0.02">CLL#202</text>
<text x="91.00" y="266.60" font-size="6.6" fill="#1a1a1a" text-anchor="middle" font-weight="normal" font-style="normal" textLength="15.4" lengthAdjust="spacingAndGlyphs" stroke="#1a1a1a" stroke-width="0.1">Subset</text>
<rect x="0.5" y="0.5" width="519" height="277" fill="none" stroke="#000" stroke-width="1"/>
<rect x="0" y="0" width="520" height="1.6" fill="#000"/>
</svg></div></body></html>
